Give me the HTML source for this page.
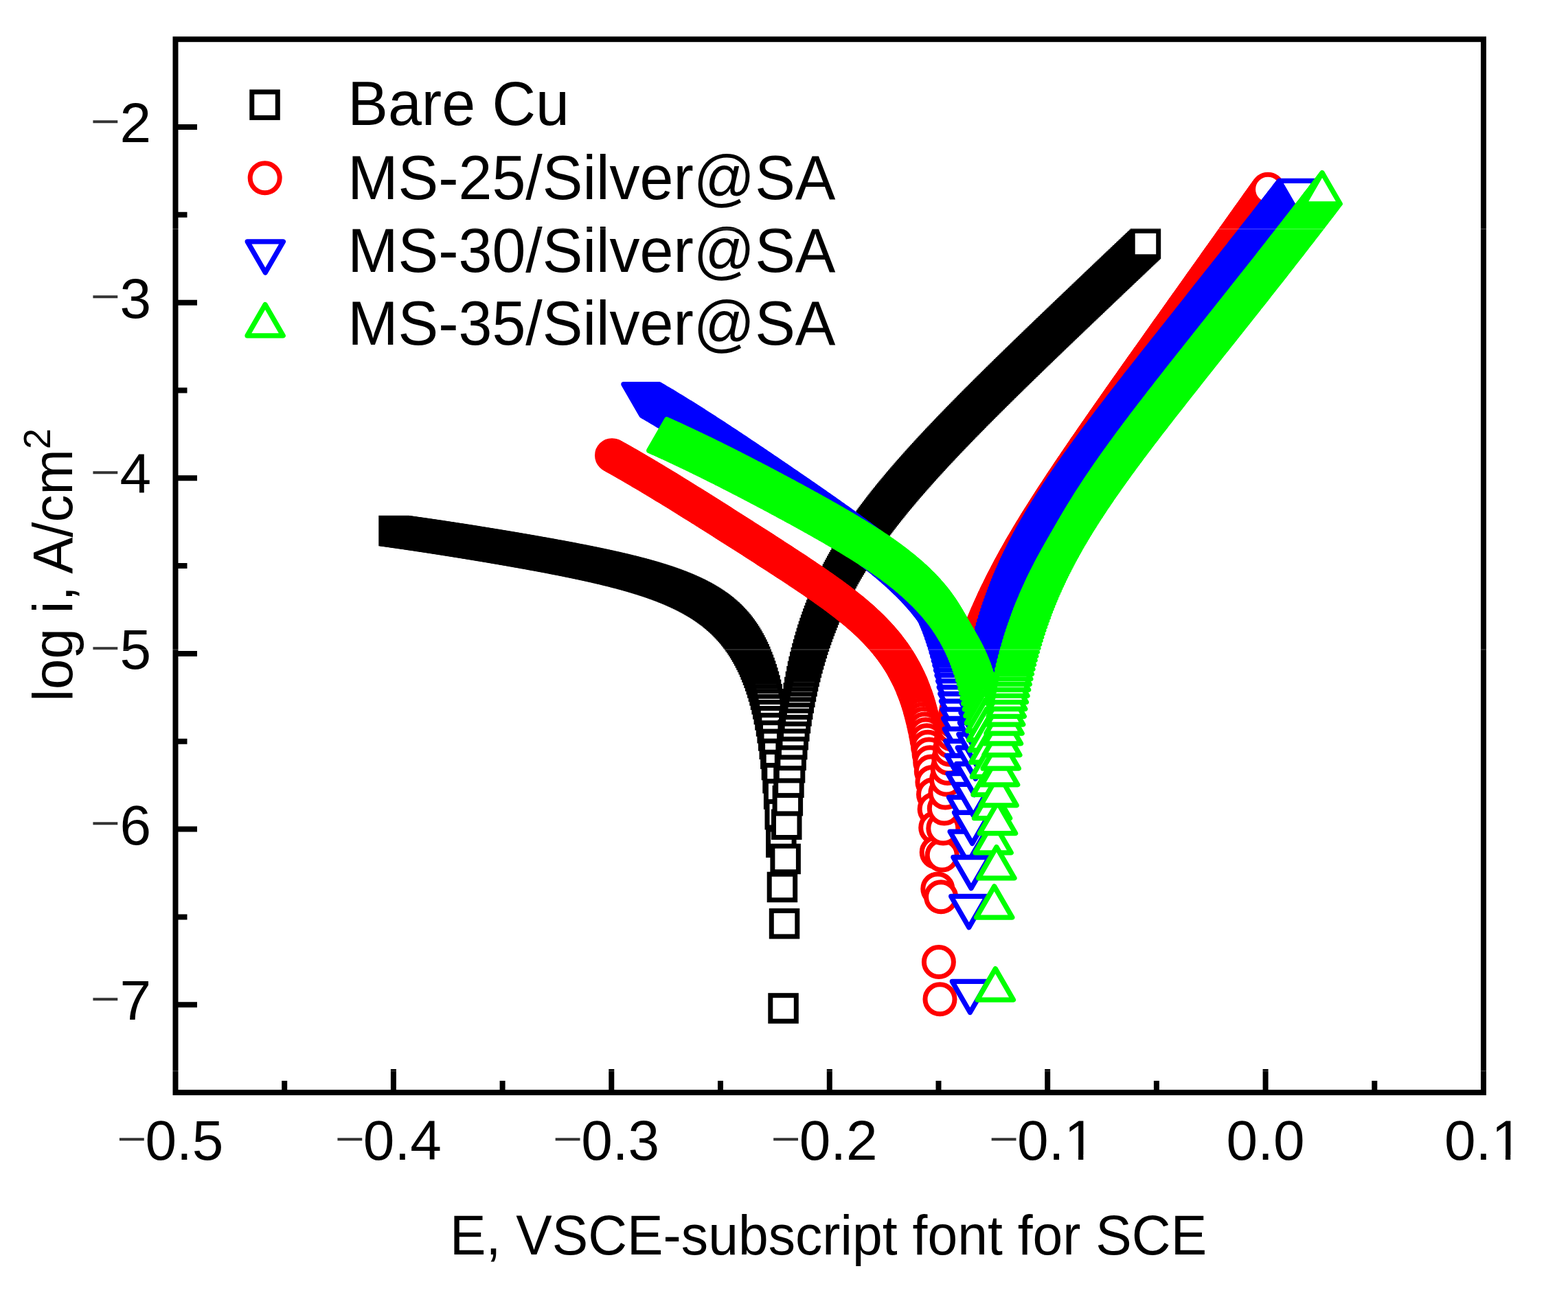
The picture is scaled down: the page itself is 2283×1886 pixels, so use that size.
<!DOCTYPE html>
<html lang="en"><head><meta charset="utf-8"><title>Polarization curves</title>
<style>html,body{margin:0;padding:0;background:#fff}body{width:2283px;height:1886px;overflow:hidden}svg{display:block}text{font-family:"Liberation Sans",sans-serif}</style></head><body>
<svg width="2283" height="1886" viewBox="0 0 2283 1886">
<rect width="2283" height="1886" fill="#fff"/>
<g fill="#fff" stroke="#000000" stroke-width="7">
<rect x="554.8" y="754.3" width="37.5" height="37.5"/><rect x="556.3" y="754.5" width="37.5" height="37.5"/><rect x="557.9" y="754.7" width="37.5" height="37.5"/><rect x="559.5" y="754.9" width="37.5" height="37.5"/><rect x="561.1" y="755.1" width="37.5" height="37.5"/><rect x="562.7" y="755.4" width="37.5" height="37.5"/><rect x="564.3" y="755.6" width="37.5" height="37.5"/><rect x="565.9" y="755.8" width="37.5" height="37.5"/><rect x="567.5" y="756" width="37.5" height="37.5"/><rect x="569" y="756.3" width="37.5" height="37.5"/><rect x="570.6" y="756.5" width="37.5" height="37.5"/><rect x="572.2" y="756.7" width="37.5" height="37.5"/><rect x="573.8" y="756.9" width="37.5" height="37.5"/><rect x="575.4" y="757.2" width="37.5" height="37.5"/><rect x="577" y="757.4" width="37.5" height="37.5"/><rect x="578.6" y="757.6" width="37.5" height="37.5"/><rect x="580.2" y="757.8" width="37.5" height="37.5"/><rect x="581.8" y="758.1" width="37.5" height="37.5"/><rect x="583.3" y="758.3" width="37.5" height="37.5"/><rect x="584.9" y="758.5" width="37.5" height="37.5"/><rect x="586.5" y="758.8" width="37.5" height="37.5"/><rect x="588.1" y="759" width="37.5" height="37.5"/><rect x="589.7" y="759.2" width="37.5" height="37.5"/><rect x="591.3" y="759.5" width="37.5" height="37.5"/><rect x="592.9" y="759.7" width="37.5" height="37.5"/><rect x="594.5" y="759.9" width="37.5" height="37.5"/><rect x="596" y="760.2" width="37.5" height="37.5"/><rect x="597.6" y="760.4" width="37.5" height="37.5"/><rect x="599.2" y="760.6" width="37.5" height="37.5"/><rect x="600.8" y="760.9" width="37.5" height="37.5"/><rect x="602.4" y="761.1" width="37.5" height="37.5"/><rect x="604" y="761.3" width="37.5" height="37.5"/><rect x="605.6" y="761.6" width="37.5" height="37.5"/><rect x="607.2" y="761.8" width="37.5" height="37.5"/><rect x="608.8" y="762.1" width="37.5" height="37.5"/><rect x="610.3" y="762.3" width="37.5" height="37.5"/><rect x="611.9" y="762.5" width="37.5" height="37.5"/><rect x="613.5" y="762.8" width="37.5" height="37.5"/><rect x="615.1" y="763" width="37.5" height="37.5"/><rect x="616.7" y="763.3" width="37.5" height="37.5"/><rect x="618.3" y="763.5" width="37.5" height="37.5"/><rect x="619.9" y="763.7" width="37.5" height="37.5"/><rect x="621.5" y="764" width="37.5" height="37.5"/><rect x="623" y="764.2" width="37.5" height="37.5"/><rect x="624.6" y="764.5" width="37.5" height="37.5"/><rect x="626.2" y="764.7" width="37.5" height="37.5"/><rect x="627.8" y="765" width="37.5" height="37.5"/><rect x="629.4" y="765.2" width="37.5" height="37.5"/><rect x="631" y="765.5" width="37.5" height="37.5"/><rect x="632.6" y="765.7" width="37.5" height="37.5"/><rect x="634.2" y="765.9" width="37.5" height="37.5"/><rect x="635.8" y="766.2" width="37.5" height="37.5"/><rect x="637.3" y="766.4" width="37.5" height="37.5"/><rect x="638.9" y="766.7" width="37.5" height="37.5"/><rect x="640.5" y="766.9" width="37.5" height="37.5"/><rect x="642.1" y="767.2" width="37.5" height="37.5"/><rect x="643.7" y="767.4" width="37.5" height="37.5"/><rect x="645.3" y="767.7" width="37.5" height="37.5"/><rect x="646.9" y="767.9" width="37.5" height="37.5"/><rect x="648.5" y="768.2" width="37.5" height="37.5"/><rect x="650" y="768.4" width="37.5" height="37.5"/><rect x="651.6" y="768.7" width="37.5" height="37.5"/><rect x="653.2" y="768.9" width="37.5" height="37.5"/><rect x="654.8" y="769.2" width="37.5" height="37.5"/><rect x="656.4" y="769.4" width="37.5" height="37.5"/><rect x="658" y="769.7" width="37.5" height="37.5"/><rect x="659.6" y="770" width="37.5" height="37.5"/><rect x="661.2" y="770.2" width="37.5" height="37.5"/><rect x="662.8" y="770.5" width="37.5" height="37.5"/><rect x="664.3" y="770.7" width="37.5" height="37.5"/><rect x="665.9" y="771" width="37.5" height="37.5"/><rect x="667.5" y="771.2" width="37.5" height="37.5"/><rect x="669.1" y="771.5" width="37.5" height="37.5"/><rect x="670.7" y="771.7" width="37.5" height="37.5"/><rect x="672.3" y="772" width="37.5" height="37.5"/><rect x="673.9" y="772.3" width="37.5" height="37.5"/><rect x="675.5" y="772.5" width="37.5" height="37.5"/><rect x="677" y="772.8" width="37.5" height="37.5"/><rect x="678.6" y="773" width="37.5" height="37.5"/><rect x="680.2" y="773.3" width="37.5" height="37.5"/><rect x="681.8" y="773.6" width="37.5" height="37.5"/><rect x="683.4" y="773.8" width="37.5" height="37.5"/><rect x="685" y="774.1" width="37.5" height="37.5"/><rect x="686.6" y="774.3" width="37.5" height="37.5"/><rect x="688.2" y="774.6" width="37.5" height="37.5"/><rect x="689.8" y="774.9" width="37.5" height="37.5"/><rect x="691.3" y="775.1" width="37.5" height="37.5"/><rect x="692.9" y="775.4" width="37.5" height="37.5"/><rect x="694.5" y="775.6" width="37.5" height="37.5"/><rect x="696.1" y="775.9" width="37.5" height="37.5"/><rect x="697.7" y="776.2" width="37.5" height="37.5"/><rect x="699.3" y="776.4" width="37.5" height="37.5"/><rect x="700.9" y="776.7" width="37.5" height="37.5"/><rect x="702.5" y="777" width="37.5" height="37.5"/><rect x="704" y="777.2" width="37.5" height="37.5"/><rect x="705.6" y="777.5" width="37.5" height="37.5"/><rect x="707.2" y="777.8" width="37.5" height="37.5"/><rect x="708.8" y="778" width="37.5" height="37.5"/><rect x="710.4" y="778.3" width="37.5" height="37.5"/><rect x="712" y="778.6" width="37.5" height="37.5"/><rect x="713.6" y="778.8" width="37.5" height="37.5"/><rect x="715.2" y="779.1" width="37.5" height="37.5"/><rect x="716.8" y="779.4" width="37.5" height="37.5"/><rect x="718.3" y="779.7" width="37.5" height="37.5"/><rect x="719.9" y="779.9" width="37.5" height="37.5"/><rect x="721.5" y="780.2" width="37.5" height="37.5"/><rect x="723.1" y="780.5" width="37.5" height="37.5"/><rect x="724.7" y="780.7" width="37.5" height="37.5"/><rect x="726.3" y="781" width="37.5" height="37.5"/><rect x="727.9" y="781.3" width="37.5" height="37.5"/><rect x="729.5" y="781.6" width="37.5" height="37.5"/><rect x="731" y="781.8" width="37.5" height="37.5"/><rect x="732.6" y="782.1" width="37.5" height="37.5"/><rect x="734.2" y="782.4" width="37.5" height="37.5"/><rect x="735.8" y="782.7" width="37.5" height="37.5"/><rect x="737.4" y="782.9" width="37.5" height="37.5"/><rect x="739" y="783.2" width="37.5" height="37.5"/><rect x="740.6" y="783.5" width="37.5" height="37.5"/><rect x="742.2" y="783.8" width="37.5" height="37.5"/><rect x="743.8" y="784.1" width="37.5" height="37.5"/><rect x="745.3" y="784.3" width="37.5" height="37.5"/><rect x="746.9" y="784.6" width="37.5" height="37.5"/><rect x="748.5" y="784.9" width="37.5" height="37.5"/><rect x="750.1" y="785.2" width="37.5" height="37.5"/><rect x="751.7" y="785.5" width="37.5" height="37.5"/><rect x="753.3" y="785.7" width="37.5" height="37.5"/><rect x="754.9" y="786" width="37.5" height="37.5"/><rect x="756.5" y="786.3" width="37.5" height="37.5"/><rect x="758" y="786.6" width="37.5" height="37.5"/><rect x="759.6" y="786.9" width="37.5" height="37.5"/><rect x="761.2" y="787.2" width="37.5" height="37.5"/><rect x="762.8" y="787.4" width="37.5" height="37.5"/><rect x="764.4" y="787.7" width="37.5" height="37.5"/><rect x="766" y="788" width="37.5" height="37.5"/><rect x="767.6" y="788.3" width="37.5" height="37.5"/><rect x="769.2" y="788.6" width="37.5" height="37.5"/><rect x="770.8" y="788.9" width="37.5" height="37.5"/><rect x="772.3" y="789.2" width="37.5" height="37.5"/><rect x="773.9" y="789.5" width="37.5" height="37.5"/><rect x="775.5" y="789.8" width="37.5" height="37.5"/><rect x="777.1" y="790.1" width="37.5" height="37.5"/><rect x="778.7" y="790.3" width="37.5" height="37.5"/><rect x="780.3" y="790.6" width="37.5" height="37.5"/><rect x="781.9" y="790.9" width="37.5" height="37.5"/><rect x="783.5" y="791.2" width="37.5" height="37.5"/><rect x="785" y="791.5" width="37.5" height="37.5"/><rect x="786.6" y="791.8" width="37.5" height="37.5"/><rect x="788.2" y="792.1" width="37.5" height="37.5"/><rect x="789.8" y="792.4" width="37.5" height="37.5"/><rect x="791.4" y="792.7" width="37.5" height="37.5"/><rect x="793" y="793" width="37.5" height="37.5"/><rect x="794.6" y="793.3" width="37.5" height="37.5"/><rect x="796.2" y="793.6" width="37.5" height="37.5"/><rect x="797.8" y="793.9" width="37.5" height="37.5"/><rect x="799.3" y="794.2" width="37.5" height="37.5"/><rect x="800.9" y="794.5" width="37.5" height="37.5"/><rect x="802.5" y="794.9" width="37.5" height="37.5"/><rect x="804.1" y="795.2" width="37.5" height="37.5"/><rect x="805.7" y="795.5" width="37.5" height="37.5"/><rect x="807.3" y="795.8" width="37.5" height="37.5"/><rect x="808.9" y="796.1" width="37.5" height="37.5"/><rect x="810.5" y="796.4" width="37.5" height="37.5"/><rect x="812" y="796.7" width="37.5" height="37.5"/><rect x="813.6" y="797" width="37.5" height="37.5"/><rect x="815.2" y="797.3" width="37.5" height="37.5"/><rect x="816.8" y="797.7" width="37.5" height="37.5"/><rect x="818.4" y="798" width="37.5" height="37.5"/><rect x="820" y="798.3" width="37.5" height="37.5"/><rect x="821.6" y="798.6" width="37.5" height="37.5"/><rect x="823.2" y="798.9" width="37.5" height="37.5"/><rect x="824.8" y="799.3" width="37.5" height="37.5"/><rect x="826.3" y="799.6" width="37.5" height="37.5"/><rect x="827.9" y="799.9" width="37.5" height="37.5"/><rect x="829.5" y="800.2" width="37.5" height="37.5"/><rect x="831.1" y="800.6" width="37.5" height="37.5"/><rect x="832.7" y="800.9" width="37.5" height="37.5"/><rect x="834.3" y="801.2" width="37.5" height="37.5"/><rect x="835.9" y="801.6" width="37.5" height="37.5"/><rect x="837.5" y="801.9" width="37.5" height="37.5"/><rect x="839" y="802.2" width="37.5" height="37.5"/><rect x="840.6" y="802.6" width="37.5" height="37.5"/><rect x="842.2" y="802.9" width="37.5" height="37.5"/><rect x="843.8" y="803.2" width="37.5" height="37.5"/><rect x="845.4" y="803.6" width="37.5" height="37.5"/><rect x="847" y="803.9" width="37.5" height="37.5"/><rect x="848.6" y="804.3" width="37.5" height="37.5"/><rect x="850.2" y="804.6" width="37.5" height="37.5"/><rect x="851.8" y="805" width="37.5" height="37.5"/><rect x="853.3" y="805.3" width="37.5" height="37.5"/><rect x="854.9" y="805.7" width="37.5" height="37.5"/><rect x="856.5" y="806" width="37.5" height="37.5"/><rect x="858.1" y="806.4" width="37.5" height="37.5"/><rect x="859.7" y="806.7" width="37.5" height="37.5"/><rect x="861.3" y="807.1" width="37.5" height="37.5"/><rect x="862.9" y="807.4" width="37.5" height="37.5"/><rect x="864.5" y="807.8" width="37.5" height="37.5"/><rect x="866" y="808.2" width="37.5" height="37.5"/><rect x="867.6" y="808.5" width="37.5" height="37.5"/><rect x="869.2" y="808.9" width="37.5" height="37.5"/><rect x="870.8" y="809.3" width="37.5" height="37.5"/><rect x="872.4" y="809.7" width="37.5" height="37.5"/><rect x="874" y="810" width="37.5" height="37.5"/><rect x="875.6" y="810.4" width="37.5" height="37.5"/><rect x="877.2" y="810.8" width="37.5" height="37.5"/><rect x="878.8" y="811.2" width="37.5" height="37.5"/><rect x="880.3" y="811.6" width="37.5" height="37.5"/><rect x="881.9" y="812" width="37.5" height="37.5"/><rect x="883.5" y="812.4" width="37.5" height="37.5"/><rect x="885.1" y="812.7" width="37.5" height="37.5"/><rect x="886.7" y="813.1" width="37.5" height="37.5"/><rect x="888.3" y="813.5" width="37.5" height="37.5"/><rect x="889.9" y="813.9" width="37.5" height="37.5"/><rect x="891.5" y="814.4" width="37.5" height="37.5"/><rect x="893" y="814.8" width="37.5" height="37.5"/><rect x="894.6" y="815.2" width="37.5" height="37.5"/><rect x="896.2" y="815.6" width="37.5" height="37.5"/><rect x="897.8" y="816" width="37.5" height="37.5"/><rect x="899.4" y="816.4" width="37.5" height="37.5"/><rect x="901" y="816.8" width="37.5" height="37.5"/><rect x="902.6" y="817.3" width="37.5" height="37.5"/><rect x="904.2" y="817.7" width="37.5" height="37.5"/><rect x="905.8" y="818.1" width="37.5" height="37.5"/><rect x="907.3" y="818.6" width="37.5" height="37.5"/><rect x="908.9" y="819" width="37.5" height="37.5"/><rect x="910.5" y="819.5" width="37.5" height="37.5"/><rect x="912.1" y="819.9" width="37.5" height="37.5"/><rect x="913.7" y="820.4" width="37.5" height="37.5"/><rect x="915.3" y="820.8" width="37.5" height="37.5"/><rect x="916.9" y="821.3" width="37.5" height="37.5"/><rect x="918.5" y="821.8" width="37.5" height="37.5"/><rect x="920" y="822.2" width="37.5" height="37.5"/><rect x="921.6" y="822.7" width="37.5" height="37.5"/><rect x="923.2" y="823.2" width="37.5" height="37.5"/><rect x="924.8" y="823.7" width="37.5" height="37.5"/><rect x="926.4" y="824.2" width="37.5" height="37.5"/><rect x="928" y="824.7" width="37.5" height="37.5"/><rect x="929.6" y="825.1" width="37.5" height="37.5"/><rect x="931.2" y="825.7" width="37.5" height="37.5"/><rect x="932.8" y="826.2" width="37.5" height="37.5"/><rect x="934.3" y="826.7" width="37.5" height="37.5"/><rect x="935.9" y="827.2" width="37.5" height="37.5"/><rect x="937.5" y="827.7" width="37.5" height="37.5"/><rect x="939.1" y="828.2" width="37.5" height="37.5"/><rect x="940.7" y="828.8" width="37.5" height="37.5"/><rect x="942.3" y="829.3" width="37.5" height="37.5"/><rect x="943.9" y="829.9" width="37.5" height="37.5"/><rect x="945.5" y="830.4" width="37.5" height="37.5"/><rect x="947" y="831" width="37.5" height="37.5"/><rect x="948.6" y="831.6" width="37.5" height="37.5"/><rect x="950.2" y="832.1" width="37.5" height="37.5"/><rect x="951.8" y="832.7" width="37.5" height="37.5"/><rect x="953.4" y="833.3" width="37.5" height="37.5"/><rect x="955" y="833.9" width="37.5" height="37.5"/><rect x="956.6" y="834.5" width="37.5" height="37.5"/><rect x="958.2" y="835.1" width="37.5" height="37.5"/><rect x="959.8" y="835.7" width="37.5" height="37.5"/><rect x="961.3" y="836.4" width="37.5" height="37.5"/><rect x="962.9" y="837" width="37.5" height="37.5"/><rect x="964.5" y="837.6" width="37.5" height="37.5"/><rect x="966.1" y="838.3" width="37.5" height="37.5"/><rect x="967.7" y="838.9" width="37.5" height="37.5"/><rect x="969.3" y="839.6" width="37.5" height="37.5"/><rect x="970.9" y="840.3" width="37.5" height="37.5"/><rect x="972.5" y="841" width="37.5" height="37.5"/><rect x="974" y="841.7" width="37.5" height="37.5"/><rect x="975.6" y="842.4" width="37.5" height="37.5"/><rect x="977.2" y="843.1" width="37.5" height="37.5"/><rect x="978.8" y="843.8" width="37.5" height="37.5"/><rect x="980.4" y="844.6" width="37.5" height="37.5"/><rect x="982" y="845.3" width="37.5" height="37.5"/><rect x="983.6" y="846.1" width="37.5" height="37.5"/><rect x="985.2" y="846.8" width="37.5" height="37.5"/><rect x="986.8" y="847.6" width="37.5" height="37.5"/><rect x="988.3" y="848.4" width="37.5" height="37.5"/><rect x="989.9" y="849.2" width="37.5" height="37.5"/><rect x="991.5" y="850.1" width="37.5" height="37.5"/><rect x="993.1" y="850.9" width="37.5" height="37.5"/><rect x="994.7" y="851.7" width="37.5" height="37.5"/><rect x="996.3" y="852.6" width="37.5" height="37.5"/><rect x="997.9" y="853.5" width="37.5" height="37.5"/><rect x="999.5" y="854.4" width="37.5" height="37.5"/><rect x="1001" y="855.3" width="37.5" height="37.5"/><rect x="1002.6" y="856.2" width="37.5" height="37.5"/><rect x="1004.2" y="857.2" width="37.5" height="37.5"/><rect x="1005.8" y="858.1" width="37.5" height="37.5"/><rect x="1007.4" y="859.1" width="37.5" height="37.5"/><rect x="1009" y="860.1" width="37.5" height="37.5"/><rect x="1010.6" y="861.1" width="37.5" height="37.5"/><rect x="1012.2" y="862.2" width="37.5" height="37.5"/><rect x="1013.8" y="863.2" width="37.5" height="37.5"/><rect x="1015.3" y="864.3" width="37.5" height="37.5"/><rect x="1016.9" y="865.4" width="37.5" height="37.5"/><rect x="1018.5" y="866.5" width="37.5" height="37.5"/><rect x="1020.1" y="867.7" width="37.5" height="37.5"/><rect x="1021.7" y="868.8" width="37.5" height="37.5"/><rect x="1023.3" y="870" width="37.5" height="37.5"/><rect x="1024.9" y="871.3" width="37.5" height="37.5"/><rect x="1026.5" y="872.5" width="37.5" height="37.5"/><rect x="1028" y="873.8" width="37.5" height="37.5"/><rect x="1029.6" y="875.1" width="37.5" height="37.5"/><rect x="1031.2" y="876.5" width="37.5" height="37.5"/><rect x="1032.8" y="877.9" width="37.5" height="37.5"/><rect x="1034.4" y="879.3" width="37.5" height="37.5"/><rect x="1036" y="880.7" width="37.5" height="37.5"/><rect x="1037.6" y="882.2" width="37.5" height="37.5"/><rect x="1039.2" y="883.7" width="37.5" height="37.5"/><rect x="1040.8" y="885.3" width="37.5" height="37.5"/><rect x="1042.3" y="886.9" width="37.5" height="37.5"/><rect x="1043.9" y="888.6" width="37.5" height="37.5"/><rect x="1045.5" y="890.3" width="37.5" height="37.5"/><rect x="1047.1" y="892" width="37.5" height="37.5"/><rect x="1048.7" y="893.8" width="37.5" height="37.5"/><rect x="1050.3" y="895.6" width="37.5" height="37.5"/><rect x="1051.9" y="897.5" width="37.5" height="37.5"/><rect x="1053.5" y="899.5" width="37.5" height="37.5"/><rect x="1055" y="901.5" width="37.5" height="37.5"/><rect x="1056.6" y="903.6" width="37.5" height="37.5"/><rect x="1058.2" y="905.7" width="37.5" height="37.5"/><rect x="1059.8" y="908" width="37.5" height="37.5"/><rect x="1061.4" y="910.2" width="37.5" height="37.5"/><rect x="1063" y="912.6" width="37.5" height="37.5"/><rect x="1064.6" y="915" width="37.5" height="37.5"/><rect x="1066.2" y="917.6" width="37.5" height="37.5"/><rect x="1067.8" y="920.2" width="37.5" height="37.5"/><rect x="1069.3" y="922.9" width="37.5" height="37.5"/><rect x="1070.9" y="925.7" width="37.5" height="37.5"/><rect x="1072.5" y="928.6" width="37.5" height="37.5"/><rect x="1074.1" y="931.7" width="37.5" height="37.5"/><rect x="1075.7" y="934.8" width="37.5" height="37.5"/><rect x="1077.3" y="938.1" width="37.5" height="37.5"/><rect x="1078.9" y="941.5" width="37.5" height="37.5"/><rect x="1080.5" y="945.1" width="37.5" height="37.5"/><rect x="1082" y="948.9" width="37.5" height="37.5"/><rect x="1083.6" y="952.8" width="37.5" height="37.5"/><rect x="1085.2" y="956.9" width="37.5" height="37.5"/><rect x="1086.8" y="961.2" width="37.5" height="37.5"/><rect x="1088.4" y="965.8" width="37.5" height="37.5"/><rect x="1090" y="970.6" width="37.5" height="37.5"/><rect x="1091.6" y="975.7" width="37.5" height="37.5"/><rect x="1093.2" y="981.1" width="37.5" height="37.5"/><rect x="1094.8" y="986.8" width="37.5" height="37.5"/><rect x="1096.3" y="993" width="37.5" height="37.5"/><rect x="1097.9" y="999.6" width="37.5" height="37.5"/><rect x="1099.5" y="1006.6" width="37.5" height="37.5"/><rect x="1101.1" y="1014.3" width="37.5" height="37.5"/><rect x="1102.7" y="1022.6" width="37.5" height="37.5"/><rect x="1104.3" y="1031.6" width="37.5" height="37.5"/><rect x="1105.9" y="1041.6" width="37.5" height="37.5"/><rect x="1107.5" y="1052.7" width="37.5" height="37.5"/><rect x="1109" y="1065" width="37.5" height="37.5"/><rect x="1110.6" y="1079.1" width="37.5" height="37.5"/><rect x="1112.2" y="1095.3" width="37.5" height="37.5"/><rect x="1113.8" y="1114.5" width="37.5" height="37.5"/><rect x="1115.4" y="1137.7" width="37.5" height="37.5"/><rect x="1117" y="1167.4" width="37.5" height="37.5"/><rect x="1118.6" y="1208" width="37.5" height="37.5"/><rect x="1120.2" y="1273.2" width="37.5" height="37.5"/><rect x="1121.8" y="1449.7" width="37.5" height="37.5"/><rect x="1123.3" y="1326.4" width="37.5" height="37.5"/><rect x="1124.9" y="1232.2" width="37.5" height="37.5"/><rect x="1126.5" y="1182" width="37.5" height="37.5"/><rect x="1128.1" y="1147.4" width="37.5" height="37.5"/><rect x="1129.7" y="1120.9" width="37.5" height="37.5"/><rect x="1131.3" y="1099.4" width="37.5" height="37.5"/><rect x="1132.9" y="1081.2" width="37.5" height="37.5"/><rect x="1134.5" y="1065.4" width="37.5" height="37.5"/><rect x="1136" y="1051.4" width="37.5" height="37.5"/><rect x="1137.6" y="1038.8" width="37.5" height="37.5"/><rect x="1139.2" y="1027.3" width="37.5" height="37.5"/><rect x="1140.8" y="1016.8" width="37.5" height="37.5"/><rect x="1142.4" y="1007" width="37.5" height="37.5"/><rect x="1144" y="997.8" width="37.5" height="37.5"/><rect x="1145.6" y="989.3" width="37.5" height="37.5"/><rect x="1147.2" y="981.2" width="37.5" height="37.5"/><rect x="1148.8" y="973.5" width="37.5" height="37.5"/><rect x="1150.3" y="966.2" width="37.5" height="37.5"/><rect x="1151.9" y="959.3" width="37.5" height="37.5"/><rect x="1153.5" y="952.6" width="37.5" height="37.5"/><rect x="1155.1" y="946.3" width="37.5" height="37.5"/><rect x="1156.7" y="940.2" width="37.5" height="37.5"/><rect x="1158.3" y="934.4" width="37.5" height="37.5"/><rect x="1159.9" y="928.7" width="37.5" height="37.5"/><rect x="1161.5" y="923.3" width="37.5" height="37.5"/><rect x="1163.1" y="918" width="37.5" height="37.5"/><rect x="1164.6" y="912.9" width="37.5" height="37.5"/><rect x="1166.2" y="908" width="37.5" height="37.5"/><rect x="1167.8" y="903.2" width="37.5" height="37.5"/><rect x="1169.4" y="898.6" width="37.5" height="37.5"/><rect x="1171" y="894.1" width="37.5" height="37.5"/><rect x="1172.6" y="889.7" width="37.5" height="37.5"/><rect x="1174.2" y="885.4" width="37.5" height="37.5"/><rect x="1175.8" y="881.2" width="37.5" height="37.5"/><rect x="1177.4" y="877.1" width="37.5" height="37.5"/><rect x="1178.9" y="873.1" width="37.5" height="37.5"/><rect x="1180.5" y="869.2" width="37.5" height="37.5"/><rect x="1182.1" y="865.4" width="37.5" height="37.5"/><rect x="1183.7" y="861.6" width="37.5" height="37.5"/><rect x="1185.3" y="858" width="37.5" height="37.5"/><rect x="1186.9" y="854.4" width="37.5" height="37.5"/><rect x="1188.5" y="850.9" width="37.5" height="37.5"/><rect x="1190.1" y="847.4" width="37.5" height="37.5"/><rect x="1191.7" y="844" width="37.5" height="37.5"/><rect x="1193.2" y="840.7" width="37.5" height="37.5"/><rect x="1194.8" y="837.4" width="37.5" height="37.5"/><rect x="1196.4" y="834.2" width="37.5" height="37.5"/><rect x="1198" y="831" width="37.5" height="37.5"/><rect x="1199.6" y="827.9" width="37.5" height="37.5"/><rect x="1201.2" y="824.8" width="37.5" height="37.5"/><rect x="1202.8" y="821.8" width="37.5" height="37.5"/><rect x="1204.4" y="818.8" width="37.5" height="37.5"/><rect x="1206" y="815.9" width="37.5" height="37.5"/><rect x="1207.5" y="813" width="37.5" height="37.5"/><rect x="1209.1" y="810.1" width="37.5" height="37.5"/><rect x="1210.7" y="807.3" width="37.5" height="37.5"/><rect x="1212.3" y="804.5" width="37.5" height="37.5"/><rect x="1213.9" y="801.7" width="37.5" height="37.5"/><rect x="1215.5" y="799" width="37.5" height="37.5"/><rect x="1217.1" y="796.3" width="37.5" height="37.5"/><rect x="1218.7" y="793.7" width="37.5" height="37.5"/><rect x="1220.3" y="791.1" width="37.5" height="37.5"/><rect x="1221.8" y="788.5" width="37.5" height="37.5"/><rect x="1223.4" y="785.9" width="37.5" height="37.5"/><rect x="1225" y="783.4" width="37.5" height="37.5"/><rect x="1226.6" y="780.9" width="37.5" height="37.5"/><rect x="1228.2" y="778.4" width="37.5" height="37.5"/><rect x="1229.8" y="776" width="37.5" height="37.5"/><rect x="1231.4" y="773.5" width="37.5" height="37.5"/><rect x="1233" y="771.1" width="37.5" height="37.5"/><rect x="1234.6" y="768.7" width="37.5" height="37.5"/><rect x="1236.1" y="766.4" width="37.5" height="37.5"/><rect x="1237.7" y="764" width="37.5" height="37.5"/><rect x="1239.3" y="761.7" width="37.5" height="37.5"/><rect x="1240.9" y="759.4" width="37.5" height="37.5"/><rect x="1242.5" y="757.1" width="37.5" height="37.5"/><rect x="1244.1" y="754.9" width="37.5" height="37.5"/><rect x="1245.7" y="752.6" width="37.5" height="37.5"/><rect x="1247.3" y="750.4" width="37.5" height="37.5"/><rect x="1248.9" y="748.2" width="37.5" height="37.5"/><rect x="1250.4" y="746" width="37.5" height="37.5"/><rect x="1252" y="743.8" width="37.5" height="37.5"/><rect x="1253.6" y="741.7" width="37.5" height="37.5"/><rect x="1255.2" y="739.5" width="37.5" height="37.5"/><rect x="1256.8" y="737.4" width="37.5" height="37.5"/><rect x="1258.4" y="735.3" width="37.5" height="37.5"/><rect x="1260" y="733.2" width="37.5" height="37.5"/><rect x="1261.6" y="731.1" width="37.5" height="37.5"/><rect x="1263.2" y="729" width="37.5" height="37.5"/><rect x="1264.7" y="727" width="37.5" height="37.5"/><rect x="1266.3" y="724.9" width="37.5" height="37.5"/><rect x="1267.9" y="722.9" width="37.5" height="37.5"/><rect x="1269.5" y="720.9" width="37.5" height="37.5"/><rect x="1271.1" y="718.8" width="37.5" height="37.5"/><rect x="1272.7" y="716.8" width="37.5" height="37.5"/><rect x="1274.3" y="714.8" width="37.5" height="37.5"/><rect x="1275.9" y="712.9" width="37.5" height="37.5"/><rect x="1277.5" y="710.9" width="37.5" height="37.5"/><rect x="1279" y="708.9" width="37.5" height="37.5"/><rect x="1280.6" y="707" width="37.5" height="37.5"/><rect x="1282.2" y="705" width="37.5" height="37.5"/><rect x="1283.8" y="703.1" width="37.5" height="37.5"/><rect x="1285.4" y="701.2" width="37.5" height="37.5"/><rect x="1287" y="699.3" width="37.5" height="37.5"/><rect x="1288.6" y="697.4" width="37.5" height="37.5"/><rect x="1290.2" y="695.5" width="37.5" height="37.5"/><rect x="1291.8" y="693.6" width="37.5" height="37.5"/><rect x="1293.3" y="691.7" width="37.5" height="37.5"/><rect x="1294.9" y="689.8" width="37.5" height="37.5"/><rect x="1296.5" y="688" width="37.5" height="37.5"/><rect x="1298.1" y="686.1" width="37.5" height="37.5"/><rect x="1299.7" y="684.2" width="37.5" height="37.5"/><rect x="1301.3" y="682.4" width="37.5" height="37.5"/><rect x="1302.9" y="680.6" width="37.5" height="37.5"/><rect x="1304.5" y="678.7" width="37.5" height="37.5"/><rect x="1306.1" y="676.9" width="37.5" height="37.5"/><rect x="1307.6" y="675.1" width="37.5" height="37.5"/><rect x="1309.2" y="673.3" width="37.5" height="37.5"/><rect x="1310.8" y="671.5" width="37.5" height="37.5"/><rect x="1312.4" y="669.7" width="37.5" height="37.5"/><rect x="1314" y="667.9" width="37.5" height="37.5"/><rect x="1315.6" y="666.1" width="37.5" height="37.5"/><rect x="1317.2" y="664.3" width="37.5" height="37.5"/><rect x="1318.8" y="662.5" width="37.5" height="37.5"/><rect x="1320.4" y="660.7" width="37.5" height="37.5"/><rect x="1321.9" y="659" width="37.5" height="37.5"/><rect x="1323.5" y="657.2" width="37.5" height="37.5"/><rect x="1325.1" y="655.4" width="37.5" height="37.5"/><rect x="1326.7" y="653.7" width="37.5" height="37.5"/><rect x="1328.3" y="651.9" width="37.5" height="37.5"/><rect x="1329.9" y="650.2" width="37.5" height="37.5"/><rect x="1331.5" y="648.5" width="37.5" height="37.5"/><rect x="1333.1" y="646.7" width="37.5" height="37.5"/><rect x="1334.7" y="645" width="37.5" height="37.5"/><rect x="1336.2" y="643.3" width="37.5" height="37.5"/><rect x="1337.8" y="641.6" width="37.5" height="37.5"/><rect x="1339.4" y="639.8" width="37.5" height="37.5"/><rect x="1341" y="638.1" width="37.5" height="37.5"/><rect x="1342.6" y="636.4" width="37.5" height="37.5"/><rect x="1344.2" y="634.7" width="37.5" height="37.5"/><rect x="1345.8" y="633" width="37.5" height="37.5"/><rect x="1347.4" y="631.3" width="37.5" height="37.5"/><rect x="1349" y="629.6" width="37.5" height="37.5"/><rect x="1350.5" y="627.9" width="37.5" height="37.5"/><rect x="1352.1" y="626.2" width="37.5" height="37.5"/><rect x="1353.7" y="624.6" width="37.5" height="37.5"/><rect x="1355.3" y="622.9" width="37.5" height="37.5"/><rect x="1356.9" y="621.2" width="37.5" height="37.5"/><rect x="1358.5" y="619.5" width="37.5" height="37.5"/><rect x="1360.1" y="617.9" width="37.5" height="37.5"/><rect x="1361.7" y="616.2" width="37.5" height="37.5"/><rect x="1363.3" y="614.5" width="37.5" height="37.5"/><rect x="1364.8" y="612.9" width="37.5" height="37.5"/><rect x="1366.4" y="611.2" width="37.5" height="37.5"/><rect x="1368" y="609.6" width="37.5" height="37.5"/><rect x="1369.6" y="607.9" width="37.5" height="37.5"/><rect x="1371.2" y="606.3" width="37.5" height="37.5"/><rect x="1372.8" y="604.6" width="37.5" height="37.5"/><rect x="1374.4" y="603" width="37.5" height="37.5"/><rect x="1376" y="601.3" width="37.5" height="37.5"/><rect x="1377.6" y="599.7" width="37.5" height="37.5"/><rect x="1379.1" y="598.1" width="37.5" height="37.5"/><rect x="1380.7" y="596.4" width="37.5" height="37.5"/><rect x="1382.3" y="594.8" width="37.5" height="37.5"/><rect x="1383.9" y="593.2" width="37.5" height="37.5"/><rect x="1385.5" y="591.6" width="37.5" height="37.5"/><rect x="1387.1" y="589.9" width="37.5" height="37.5"/><rect x="1388.7" y="588.3" width="37.5" height="37.5"/><rect x="1390.3" y="586.7" width="37.5" height="37.5"/><rect x="1391.9" y="585.1" width="37.5" height="37.5"/><rect x="1393.4" y="583.5" width="37.5" height="37.5"/><rect x="1395" y="581.9" width="37.5" height="37.5"/><rect x="1396.6" y="580.2" width="37.5" height="37.5"/><rect x="1398.2" y="578.6" width="37.5" height="37.5"/><rect x="1399.8" y="577" width="37.5" height="37.5"/><rect x="1401.4" y="575.4" width="37.5" height="37.5"/><rect x="1403" y="573.8" width="37.5" height="37.5"/><rect x="1404.6" y="572.2" width="37.5" height="37.5"/><rect x="1406.2" y="570.6" width="37.5" height="37.5"/><rect x="1407.7" y="569" width="37.5" height="37.5"/><rect x="1409.3" y="567.4" width="37.5" height="37.5"/><rect x="1410.9" y="565.9" width="37.5" height="37.5"/><rect x="1412.5" y="564.3" width="37.5" height="37.5"/><rect x="1414.1" y="562.7" width="37.5" height="37.5"/><rect x="1415.7" y="561.1" width="37.5" height="37.5"/><rect x="1417.3" y="559.5" width="37.5" height="37.5"/><rect x="1418.9" y="557.9" width="37.5" height="37.5"/><rect x="1420.5" y="556.3" width="37.5" height="37.5"/><rect x="1422" y="554.8" width="37.5" height="37.5"/><rect x="1423.6" y="553.2" width="37.5" height="37.5"/><rect x="1425.2" y="551.6" width="37.5" height="37.5"/><rect x="1426.8" y="550" width="37.5" height="37.5"/><rect x="1428.4" y="548.5" width="37.5" height="37.5"/><rect x="1430" y="546.9" width="37.5" height="37.5"/><rect x="1431.6" y="545.3" width="37.5" height="37.5"/><rect x="1433.2" y="543.7" width="37.5" height="37.5"/><rect x="1434.8" y="542.2" width="37.5" height="37.5"/><rect x="1436.3" y="540.6" width="37.5" height="37.5"/><rect x="1437.9" y="539" width="37.5" height="37.5"/><rect x="1439.5" y="537.5" width="37.5" height="37.5"/><rect x="1441.1" y="535.9" width="37.5" height="37.5"/><rect x="1442.7" y="534.3" width="37.5" height="37.5"/><rect x="1444.3" y="532.8" width="37.5" height="37.5"/><rect x="1445.9" y="531.2" width="37.5" height="37.5"/><rect x="1447.5" y="529.7" width="37.5" height="37.5"/><rect x="1449.1" y="528.1" width="37.5" height="37.5"/><rect x="1450.6" y="526.5" width="37.5" height="37.5"/><rect x="1452.2" y="525" width="37.5" height="37.5"/><rect x="1453.8" y="523.4" width="37.5" height="37.5"/><rect x="1455.4" y="521.9" width="37.5" height="37.5"/><rect x="1457" y="520.3" width="37.5" height="37.5"/><rect x="1458.6" y="518.8" width="37.5" height="37.5"/><rect x="1460.2" y="517.2" width="37.5" height="37.5"/><rect x="1461.8" y="515.7" width="37.5" height="37.5"/><rect x="1463.4" y="514.1" width="37.5" height="37.5"/><rect x="1464.9" y="512.6" width="37.5" height="37.5"/><rect x="1466.5" y="511" width="37.5" height="37.5"/><rect x="1468.1" y="509.5" width="37.5" height="37.5"/><rect x="1469.7" y="508" width="37.5" height="37.5"/><rect x="1471.3" y="506.4" width="37.5" height="37.5"/><rect x="1472.9" y="504.9" width="37.5" height="37.5"/><rect x="1474.5" y="503.3" width="37.5" height="37.5"/><rect x="1476.1" y="501.8" width="37.5" height="37.5"/><rect x="1477.7" y="500.2" width="37.5" height="37.5"/><rect x="1479.2" y="498.7" width="37.5" height="37.5"/><rect x="1480.8" y="497.2" width="37.5" height="37.5"/><rect x="1482.4" y="495.6" width="37.5" height="37.5"/><rect x="1484" y="494.1" width="37.5" height="37.5"/><rect x="1485.6" y="492.5" width="37.5" height="37.5"/><rect x="1487.2" y="491" width="37.5" height="37.5"/><rect x="1488.8" y="489.5" width="37.5" height="37.5"/><rect x="1490.4" y="487.9" width="37.5" height="37.5"/><rect x="1492" y="486.4" width="37.5" height="37.5"/><rect x="1493.5" y="484.9" width="37.5" height="37.5"/><rect x="1495.1" y="483.3" width="37.5" height="37.5"/><rect x="1496.7" y="481.8" width="37.5" height="37.5"/><rect x="1498.3" y="480.3" width="37.5" height="37.5"/><rect x="1499.9" y="478.7" width="37.5" height="37.5"/><rect x="1501.5" y="477.2" width="37.5" height="37.5"/><rect x="1503.1" y="475.7" width="37.5" height="37.5"/><rect x="1504.7" y="474.2" width="37.5" height="37.5"/><rect x="1506.3" y="472.6" width="37.5" height="37.5"/><rect x="1507.8" y="471.1" width="37.5" height="37.5"/><rect x="1509.4" y="469.6" width="37.5" height="37.5"/><rect x="1511" y="468" width="37.5" height="37.5"/><rect x="1512.6" y="466.5" width="37.5" height="37.5"/><rect x="1514.2" y="465" width="37.5" height="37.5"/><rect x="1515.8" y="463.5" width="37.5" height="37.5"/><rect x="1517.4" y="461.9" width="37.5" height="37.5"/><rect x="1519" y="460.4" width="37.5" height="37.5"/><rect x="1520.6" y="458.9" width="37.5" height="37.5"/><rect x="1522.1" y="457.4" width="37.5" height="37.5"/><rect x="1523.7" y="455.9" width="37.5" height="37.5"/><rect x="1525.3" y="454.3" width="37.5" height="37.5"/><rect x="1526.9" y="452.8" width="37.5" height="37.5"/><rect x="1528.5" y="451.3" width="37.5" height="37.5"/><rect x="1530.1" y="449.8" width="37.5" height="37.5"/><rect x="1531.7" y="448.2" width="37.5" height="37.5"/><rect x="1533.3" y="446.7" width="37.5" height="37.5"/><rect x="1534.9" y="445.2" width="37.5" height="37.5"/><rect x="1536.4" y="443.7" width="37.5" height="37.5"/><rect x="1538" y="442.2" width="37.5" height="37.5"/><rect x="1539.6" y="440.6" width="37.5" height="37.5"/><rect x="1541.2" y="439.1" width="37.5" height="37.5"/><rect x="1542.8" y="437.6" width="37.5" height="37.5"/><rect x="1544.4" y="436.1" width="37.5" height="37.5"/><rect x="1546" y="434.6" width="37.5" height="37.5"/><rect x="1547.6" y="433.1" width="37.5" height="37.5"/><rect x="1549.2" y="431.5" width="37.5" height="37.5"/><rect x="1550.7" y="430" width="37.5" height="37.5"/><rect x="1552.3" y="428.5" width="37.5" height="37.5"/><rect x="1553.9" y="427" width="37.5" height="37.5"/><rect x="1555.5" y="425.5" width="37.5" height="37.5"/><rect x="1557.1" y="424" width="37.5" height="37.5"/><rect x="1558.7" y="422.4" width="37.5" height="37.5"/><rect x="1560.3" y="420.9" width="37.5" height="37.5"/><rect x="1561.9" y="419.4" width="37.5" height="37.5"/><rect x="1563.5" y="417.9" width="37.5" height="37.5"/><rect x="1565" y="416.4" width="37.5" height="37.5"/><rect x="1566.6" y="414.9" width="37.5" height="37.5"/><rect x="1568.2" y="413.4" width="37.5" height="37.5"/><rect x="1569.8" y="411.8" width="37.5" height="37.5"/><rect x="1571.4" y="410.3" width="37.5" height="37.5"/><rect x="1573" y="408.8" width="37.5" height="37.5"/><rect x="1574.6" y="407.3" width="37.5" height="37.5"/><rect x="1576.2" y="405.8" width="37.5" height="37.5"/><rect x="1577.8" y="404.3" width="37.5" height="37.5"/><rect x="1579.3" y="402.8" width="37.5" height="37.5"/><rect x="1580.9" y="401.2" width="37.5" height="37.5"/><rect x="1582.5" y="399.7" width="37.5" height="37.5"/><rect x="1584.1" y="398.2" width="37.5" height="37.5"/><rect x="1585.7" y="396.7" width="37.5" height="37.5"/><rect x="1587.3" y="395.2" width="37.5" height="37.5"/><rect x="1588.9" y="393.7" width="37.5" height="37.5"/><rect x="1590.5" y="392.2" width="37.5" height="37.5"/><rect x="1592.1" y="390.7" width="37.5" height="37.5"/><rect x="1593.6" y="389.2" width="37.5" height="37.5"/><rect x="1595.2" y="387.6" width="37.5" height="37.5"/><rect x="1596.8" y="386.1" width="37.5" height="37.5"/><rect x="1598.4" y="384.6" width="37.5" height="37.5"/><rect x="1600" y="383.1" width="37.5" height="37.5"/><rect x="1601.6" y="381.6" width="37.5" height="37.5"/><rect x="1603.2" y="380.1" width="37.5" height="37.5"/><rect x="1604.8" y="378.6" width="37.5" height="37.5"/><rect x="1606.4" y="377.1" width="37.5" height="37.5"/><rect x="1607.9" y="375.6" width="37.5" height="37.5"/><rect x="1609.5" y="374.1" width="37.5" height="37.5"/><rect x="1611.1" y="372.5" width="37.5" height="37.5"/><rect x="1612.7" y="371" width="37.5" height="37.5"/><rect x="1614.3" y="369.5" width="37.5" height="37.5"/><rect x="1615.9" y="368" width="37.5" height="37.5"/><rect x="1617.5" y="366.5" width="37.5" height="37.5"/><rect x="1619.1" y="365" width="37.5" height="37.5"/><rect x="1620.7" y="363.5" width="37.5" height="37.5"/><rect x="1622.2" y="362" width="37.5" height="37.5"/><rect x="1623.8" y="360.5" width="37.5" height="37.5"/><rect x="1625.4" y="359" width="37.5" height="37.5"/><rect x="1627" y="357.5" width="37.5" height="37.5"/><rect x="1628.6" y="355.9" width="37.5" height="37.5"/><rect x="1630.2" y="354.4" width="37.5" height="37.5"/><rect x="1631.8" y="352.9" width="37.5" height="37.5"/><rect x="1633.4" y="351.4" width="37.5" height="37.5"/><rect x="1635" y="349.9" width="37.5" height="37.5"/><rect x="1636.5" y="348.4" width="37.5" height="37.5"/><rect x="1638.1" y="346.9" width="37.5" height="37.5"/><rect x="1639.7" y="345.4" width="37.5" height="37.5"/><rect x="1641.3" y="343.9" width="37.5" height="37.5"/><rect x="1642.9" y="342.4" width="37.5" height="37.5"/><rect x="1644.5" y="340.9" width="37.5" height="37.5"/><rect x="1646.1" y="339.4" width="37.5" height="37.5"/><rect x="1647.7" y="337.9" width="37.5" height="37.5"/><rect x="1649.2" y="336.3" width="37.5" height="37.5"/>
</g>
<g fill="#fff" stroke="#ff0000" stroke-width="7">
<circle cx="891" cy="663.2" r="21.5"/><circle cx="892.6" cy="664.1" r="21.5"/><circle cx="894.2" cy="665" r="21.5"/><circle cx="895.8" cy="665.9" r="21.5"/><circle cx="897.3" cy="666.7" r="21.5"/><circle cx="898.9" cy="667.6" r="21.5"/><circle cx="900.5" cy="668.5" r="21.5"/><circle cx="902.1" cy="669.4" r="21.5"/><circle cx="903.7" cy="670.3" r="21.5"/><circle cx="905.3" cy="671.2" r="21.5"/><circle cx="906.9" cy="672.1" r="21.5"/><circle cx="908.5" cy="673" r="21.5"/><circle cx="910" cy="673.9" r="21.5"/><circle cx="911.6" cy="674.8" r="21.5"/><circle cx="913.2" cy="675.7" r="21.5"/><circle cx="914.8" cy="676.6" r="21.5"/><circle cx="916.4" cy="677.6" r="21.5"/><circle cx="918" cy="678.5" r="21.5"/><circle cx="919.6" cy="679.4" r="21.5"/><circle cx="921.1" cy="680.3" r="21.5"/><circle cx="922.7" cy="681.2" r="21.5"/><circle cx="924.3" cy="682.2" r="21.5"/><circle cx="925.9" cy="683.1" r="21.5"/><circle cx="927.5" cy="684" r="21.5"/><circle cx="929.1" cy="684.9" r="21.5"/><circle cx="930.7" cy="685.9" r="21.5"/><circle cx="932.2" cy="686.8" r="21.5"/><circle cx="933.8" cy="687.7" r="21.5"/><circle cx="935.4" cy="688.7" r="21.5"/><circle cx="937" cy="689.6" r="21.5"/><circle cx="938.6" cy="690.5" r="21.5"/><circle cx="940.2" cy="691.5" r="21.5"/><circle cx="941.8" cy="692.4" r="21.5"/><circle cx="943.4" cy="693.4" r="21.5"/><circle cx="944.9" cy="694.3" r="21.5"/><circle cx="946.5" cy="695.3" r="21.5"/><circle cx="948.1" cy="696.2" r="21.5"/><circle cx="949.7" cy="697.2" r="21.5"/><circle cx="951.3" cy="698.1" r="21.5"/><circle cx="952.9" cy="699.1" r="21.5"/><circle cx="954.5" cy="700" r="21.5"/><circle cx="956" cy="701" r="21.5"/><circle cx="957.6" cy="701.9" r="21.5"/><circle cx="959.2" cy="702.9" r="21.5"/><circle cx="960.8" cy="703.9" r="21.5"/><circle cx="962.4" cy="704.8" r="21.5"/><circle cx="964" cy="705.8" r="21.5"/><circle cx="965.6" cy="706.7" r="21.5"/><circle cx="967.1" cy="707.7" r="21.5"/><circle cx="968.7" cy="708.7" r="21.5"/><circle cx="970.3" cy="709.6" r="21.5"/><circle cx="971.9" cy="710.6" r="21.5"/><circle cx="973.5" cy="711.6" r="21.5"/><circle cx="975.1" cy="712.5" r="21.5"/><circle cx="976.7" cy="713.5" r="21.5"/><circle cx="978.3" cy="714.5" r="21.5"/><circle cx="979.8" cy="715.5" r="21.5"/><circle cx="981.4" cy="716.4" r="21.5"/><circle cx="983" cy="717.4" r="21.5"/><circle cx="984.6" cy="718.4" r="21.5"/><circle cx="986.2" cy="719.4" r="21.5"/><circle cx="987.8" cy="720.4" r="21.5"/><circle cx="989.4" cy="721.3" r="21.5"/><circle cx="990.9" cy="722.3" r="21.5"/><circle cx="992.5" cy="723.3" r="21.5"/><circle cx="994.1" cy="724.3" r="21.5"/><circle cx="995.7" cy="725.3" r="21.5"/><circle cx="997.3" cy="726.3" r="21.5"/><circle cx="998.9" cy="727.2" r="21.5"/><circle cx="1000.5" cy="728.2" r="21.5"/><circle cx="1002" cy="729.2" r="21.5"/><circle cx="1003.6" cy="730.2" r="21.5"/><circle cx="1005.2" cy="731.2" r="21.5"/><circle cx="1006.8" cy="732.2" r="21.5"/><circle cx="1008.4" cy="733.2" r="21.5"/><circle cx="1010" cy="734.2" r="21.5"/><circle cx="1011.6" cy="735.2" r="21.5"/><circle cx="1013.2" cy="736.1" r="21.5"/><circle cx="1014.7" cy="737.1" r="21.5"/><circle cx="1016.3" cy="738.1" r="21.5"/><circle cx="1017.9" cy="739.1" r="21.5"/><circle cx="1019.5" cy="740.1" r="21.5"/><circle cx="1021.1" cy="741.1" r="21.5"/><circle cx="1022.7" cy="742.1" r="21.5"/><circle cx="1024.3" cy="743.1" r="21.5"/><circle cx="1025.8" cy="744.1" r="21.5"/><circle cx="1027.4" cy="745.1" r="21.5"/><circle cx="1029" cy="746.1" r="21.5"/><circle cx="1030.6" cy="747.1" r="21.5"/><circle cx="1032.2" cy="748.1" r="21.5"/><circle cx="1033.8" cy="749.1" r="21.5"/><circle cx="1035.4" cy="750.1" r="21.5"/><circle cx="1036.9" cy="751.1" r="21.5"/><circle cx="1038.5" cy="752.1" r="21.5"/><circle cx="1040.1" cy="753.1" r="21.5"/><circle cx="1041.7" cy="754.1" r="21.5"/><circle cx="1043.3" cy="755.1" r="21.5"/><circle cx="1044.9" cy="756.1" r="21.5"/><circle cx="1046.5" cy="757.1" r="21.5"/><circle cx="1048.1" cy="758.1" r="21.5"/><circle cx="1049.6" cy="759.1" r="21.5"/><circle cx="1051.2" cy="760.1" r="21.5"/><circle cx="1052.8" cy="761.1" r="21.5"/><circle cx="1054.4" cy="762.2" r="21.5"/><circle cx="1056" cy="763.2" r="21.5"/><circle cx="1057.6" cy="764.2" r="21.5"/><circle cx="1059.2" cy="765.2" r="21.5"/><circle cx="1060.7" cy="766.2" r="21.5"/><circle cx="1062.3" cy="767.2" r="21.5"/><circle cx="1063.9" cy="768.2" r="21.5"/><circle cx="1065.5" cy="769.2" r="21.5"/><circle cx="1067.1" cy="770.2" r="21.5"/><circle cx="1068.7" cy="771.2" r="21.5"/><circle cx="1070.3" cy="772.2" r="21.5"/><circle cx="1071.8" cy="773.2" r="21.5"/><circle cx="1073.4" cy="774.3" r="21.5"/><circle cx="1075" cy="775.3" r="21.5"/><circle cx="1076.6" cy="776.3" r="21.5"/><circle cx="1078.2" cy="777.3" r="21.5"/><circle cx="1079.8" cy="778.3" r="21.5"/><circle cx="1081.4" cy="779.3" r="21.5"/><circle cx="1083" cy="780.3" r="21.5"/><circle cx="1084.5" cy="781.3" r="21.5"/><circle cx="1086.1" cy="782.4" r="21.5"/><circle cx="1087.7" cy="783.4" r="21.5"/><circle cx="1089.3" cy="784.4" r="21.5"/><circle cx="1090.9" cy="785.4" r="21.5"/><circle cx="1092.5" cy="786.4" r="21.5"/><circle cx="1094.1" cy="787.4" r="21.5"/><circle cx="1095.6" cy="788.4" r="21.5"/><circle cx="1097.2" cy="789.5" r="21.5"/><circle cx="1098.8" cy="790.5" r="21.5"/><circle cx="1100.4" cy="791.5" r="21.5"/><circle cx="1102" cy="792.5" r="21.5"/><circle cx="1103.6" cy="793.5" r="21.5"/><circle cx="1105.2" cy="794.5" r="21.5"/><circle cx="1106.7" cy="795.6" r="21.5"/><circle cx="1108.3" cy="796.6" r="21.5"/><circle cx="1109.9" cy="797.6" r="21.5"/><circle cx="1111.5" cy="798.6" r="21.5"/><circle cx="1113.1" cy="799.6" r="21.5"/><circle cx="1114.7" cy="800.7" r="21.5"/><circle cx="1116.3" cy="801.7" r="21.5"/><circle cx="1117.9" cy="802.7" r="21.5"/><circle cx="1119.4" cy="803.7" r="21.5"/><circle cx="1121" cy="804.8" r="21.5"/><circle cx="1122.6" cy="805.8" r="21.5"/><circle cx="1124.2" cy="806.8" r="21.5"/><circle cx="1125.8" cy="807.8" r="21.5"/><circle cx="1127.4" cy="808.9" r="21.5"/><circle cx="1129" cy="809.9" r="21.5"/><circle cx="1130.5" cy="810.9" r="21.5"/><circle cx="1132.1" cy="811.9" r="21.5"/><circle cx="1133.7" cy="813" r="21.5"/><circle cx="1135.3" cy="814" r="21.5"/><circle cx="1136.9" cy="815" r="21.5"/><circle cx="1138.5" cy="816.1" r="21.5"/><circle cx="1140.1" cy="817.1" r="21.5"/><circle cx="1141.6" cy="818.1" r="21.5"/><circle cx="1143.2" cy="819.2" r="21.5"/><circle cx="1144.8" cy="820.2" r="21.5"/><circle cx="1146.4" cy="821.2" r="21.5"/><circle cx="1148" cy="822.3" r="21.5"/><circle cx="1149.6" cy="823.3" r="21.5"/><circle cx="1151.2" cy="824.4" r="21.5"/><circle cx="1152.8" cy="825.4" r="21.5"/><circle cx="1154.3" cy="826.4" r="21.5"/><circle cx="1155.9" cy="827.5" r="21.5"/><circle cx="1157.5" cy="828.5" r="21.5"/><circle cx="1159.1" cy="829.6" r="21.5"/><circle cx="1160.7" cy="830.6" r="21.5"/><circle cx="1162.3" cy="831.7" r="21.5"/><circle cx="1163.9" cy="832.7" r="21.5"/><circle cx="1165.4" cy="833.8" r="21.5"/><circle cx="1167" cy="834.9" r="21.5"/><circle cx="1168.6" cy="835.9" r="21.5"/><circle cx="1170.2" cy="837" r="21.5"/><circle cx="1171.8" cy="838" r="21.5"/><circle cx="1173.4" cy="839.1" r="21.5"/><circle cx="1175" cy="840.2" r="21.5"/><circle cx="1176.5" cy="841.2" r="21.5"/><circle cx="1178.1" cy="842.3" r="21.5"/><circle cx="1179.7" cy="843.4" r="21.5"/><circle cx="1181.3" cy="844.5" r="21.5"/><circle cx="1182.9" cy="845.6" r="21.5"/><circle cx="1184.5" cy="846.6" r="21.5"/><circle cx="1186.1" cy="847.7" r="21.5"/><circle cx="1187.7" cy="848.8" r="21.5"/><circle cx="1189.2" cy="849.9" r="21.5"/><circle cx="1190.8" cy="851" r="21.5"/><circle cx="1192.4" cy="852.1" r="21.5"/><circle cx="1194" cy="853.2" r="21.5"/><circle cx="1195.6" cy="854.3" r="21.5"/><circle cx="1197.2" cy="855.4" r="21.5"/><circle cx="1198.8" cy="856.5" r="21.5"/><circle cx="1200.3" cy="857.7" r="21.5"/><circle cx="1201.9" cy="858.8" r="21.5"/><circle cx="1203.5" cy="859.9" r="21.5"/><circle cx="1205.1" cy="861" r="21.5"/><circle cx="1206.7" cy="862.2" r="21.5"/><circle cx="1208.3" cy="863.3" r="21.5"/><circle cx="1209.9" cy="864.5" r="21.5"/><circle cx="1211.4" cy="865.6" r="21.5"/><circle cx="1213" cy="866.8" r="21.5"/><circle cx="1214.6" cy="867.9" r="21.5"/><circle cx="1216.2" cy="869.1" r="21.5"/><circle cx="1217.8" cy="870.3" r="21.5"/><circle cx="1219.4" cy="871.5" r="21.5"/><circle cx="1221" cy="872.7" r="21.5"/><circle cx="1222.6" cy="873.8" r="21.5"/><circle cx="1224.1" cy="875.1" r="21.5"/><circle cx="1225.7" cy="876.3" r="21.5"/><circle cx="1227.3" cy="877.5" r="21.5"/><circle cx="1228.9" cy="878.7" r="21.5"/><circle cx="1230.5" cy="879.9" r="21.5"/><circle cx="1232.1" cy="881.2" r="21.5"/><circle cx="1233.7" cy="882.4" r="21.5"/><circle cx="1235.2" cy="883.7" r="21.5"/><circle cx="1236.8" cy="885" r="21.5"/><circle cx="1238.4" cy="886.2" r="21.5"/><circle cx="1240" cy="887.5" r="21.5"/><circle cx="1241.6" cy="888.8" r="21.5"/><circle cx="1243.2" cy="890.1" r="21.5"/><circle cx="1244.8" cy="891.4" r="21.5"/><circle cx="1246.3" cy="892.8" r="21.5"/><circle cx="1247.9" cy="894.1" r="21.5"/><circle cx="1249.5" cy="895.5" r="21.5"/><circle cx="1251.1" cy="896.9" r="21.5"/><circle cx="1252.7" cy="898.2" r="21.5"/><circle cx="1254.3" cy="899.6" r="21.5"/><circle cx="1255.9" cy="901" r="21.5"/><circle cx="1257.5" cy="902.5" r="21.5"/><circle cx="1259" cy="903.9" r="21.5"/><circle cx="1260.6" cy="905.4" r="21.5"/><circle cx="1262.2" cy="906.9" r="21.5"/><circle cx="1263.8" cy="908.4" r="21.5"/><circle cx="1265.4" cy="909.9" r="21.5"/><circle cx="1267" cy="911.4" r="21.5"/><circle cx="1268.6" cy="913" r="21.5"/><circle cx="1270.1" cy="914.5" r="21.5"/><circle cx="1271.7" cy="916.1" r="21.5"/><circle cx="1273.3" cy="917.8" r="21.5"/><circle cx="1274.9" cy="919.4" r="21.5"/><circle cx="1276.5" cy="921.1" r="21.5"/><circle cx="1278.1" cy="922.8" r="21.5"/><circle cx="1279.7" cy="924.5" r="21.5"/><circle cx="1281.2" cy="926.2" r="21.5"/><circle cx="1282.8" cy="928" r="21.5"/><circle cx="1284.4" cy="929.8" r="21.5"/><circle cx="1286" cy="931.6" r="21.5"/><circle cx="1287.6" cy="933.5" r="21.5"/><circle cx="1289.2" cy="935.4" r="21.5"/><circle cx="1290.8" cy="937.3" r="21.5"/><circle cx="1292.4" cy="939.3" r="21.5"/><circle cx="1293.9" cy="941.3" r="21.5"/><circle cx="1295.5" cy="943.4" r="21.5"/><circle cx="1297.1" cy="945.5" r="21.5"/><circle cx="1298.7" cy="947.6" r="21.5"/><circle cx="1300.3" cy="949.8" r="21.5"/><circle cx="1301.9" cy="952" r="21.5"/><circle cx="1303.5" cy="954.3" r="21.5"/><circle cx="1305" cy="956.6" r="21.5"/><circle cx="1306.6" cy="959" r="21.5"/><circle cx="1308.2" cy="961.5" r="21.5"/><circle cx="1309.8" cy="964" r="21.5"/><circle cx="1311.4" cy="966.6" r="21.5"/><circle cx="1313" cy="969.3" r="21.5"/><circle cx="1314.6" cy="972.1" r="21.5"/><circle cx="1316.1" cy="974.9" r="21.5"/><circle cx="1317.7" cy="977.8" r="21.5"/><circle cx="1319.3" cy="980.9" r="21.5"/><circle cx="1320.9" cy="984" r="21.5"/><circle cx="1322.5" cy="987.3" r="21.5"/><circle cx="1324.1" cy="990.6" r="21.5"/><circle cx="1325.7" cy="994.2" r="21.5"/><circle cx="1327.3" cy="997.8" r="21.5"/><circle cx="1328.8" cy="1001.7" r="21.5"/><circle cx="1330.4" cy="1005.7" r="21.5"/><circle cx="1332" cy="1009.9" r="21.5"/><circle cx="1333.6" cy="1014.3" r="21.5"/><circle cx="1335.2" cy="1019" r="21.5"/><circle cx="1336.8" cy="1024" r="21.5"/><circle cx="1338.4" cy="1029.2" r="21.5"/><circle cx="1339.9" cy="1034.8" r="21.5"/><circle cx="1341.5" cy="1040.8" r="21.5"/><circle cx="1343.1" cy="1047.2" r="21.5"/><circle cx="1344.7" cy="1054" r="21.5"/><circle cx="1346.3" cy="1061.4" r="21.5"/><circle cx="1347.9" cy="1069.4" r="21.5"/><circle cx="1349.5" cy="1078.2" r="21.5"/><circle cx="1351" cy="1087.8" r="21.5"/><circle cx="1352.6" cy="1098.4" r="21.5"/><circle cx="1354.2" cy="1110.3" r="21.5"/><circle cx="1355.8" cy="1123.6" r="21.5"/><circle cx="1357.4" cy="1139" r="21.5"/><circle cx="1359" cy="1157" r="21.5"/><circle cx="1360.6" cy="1178.5" r="21.5"/><circle cx="1362.2" cy="1205.5" r="21.5"/><circle cx="1363.7" cy="1241.2" r="21.5"/><circle cx="1365.3" cy="1294.5" r="21.5"/><circle cx="1366.9" cy="1401" r="21.5"/><circle cx="1368.5" cy="1455.3" r="21.5"/><circle cx="1370.1" cy="1306.2" r="21.5"/><circle cx="1371.7" cy="1245.6" r="21.5"/><circle cx="1373.3" cy="1206.5" r="21.5"/><circle cx="1374.8" cy="1177.6" r="21.5"/><circle cx="1376.4" cy="1154.6" r="21.5"/><circle cx="1378" cy="1135.4" r="21.5"/><circle cx="1379.6" cy="1119" r="21.5"/><circle cx="1381.2" cy="1104.6" r="21.5"/><circle cx="1382.8" cy="1091.8" r="21.5"/><circle cx="1384.4" cy="1080.2" r="21.5"/><circle cx="1386" cy="1069.6" r="21.5"/><circle cx="1387.5" cy="1059.9" r="21.5"/><circle cx="1389.1" cy="1050.8" r="21.5"/><circle cx="1390.7" cy="1042.4" r="21.5"/><circle cx="1392.3" cy="1034.4" r="21.5"/><circle cx="1393.9" cy="1026.9" r="21.5"/><circle cx="1395.5" cy="1019.7" r="21.5"/><circle cx="1397.1" cy="1013" r="21.5"/><circle cx="1398.6" cy="1006.5" r="21.5"/><circle cx="1400.2" cy="1000.2" r="21.5"/><circle cx="1401.8" cy="994.3" r="21.5"/><circle cx="1403.4" cy="988.5" r="21.5"/><circle cx="1405" cy="982.9" r="21.5"/><circle cx="1406.6" cy="977.5" r="21.5"/><circle cx="1408.2" cy="972.3" r="21.5"/><circle cx="1409.8" cy="967.2" r="21.5"/><circle cx="1411.3" cy="962.3" r="21.5"/><circle cx="1412.9" cy="957.5" r="21.5"/><circle cx="1414.5" cy="952.8" r="21.5"/><circle cx="1416.1" cy="948.2" r="21.5"/><circle cx="1417.7" cy="943.7" r="21.5"/><circle cx="1419.3" cy="939.3" r="21.5"/><circle cx="1420.9" cy="935" r="21.5"/><circle cx="1422.4" cy="930.8" r="21.5"/><circle cx="1424" cy="926.6" r="21.5"/><circle cx="1425.6" cy="922.6" r="21.5"/><circle cx="1427.2" cy="918.6" r="21.5"/><circle cx="1428.8" cy="914.6" r="21.5"/><circle cx="1430.4" cy="910.7" r="21.5"/><circle cx="1432" cy="906.9" r="21.5"/><circle cx="1433.6" cy="903.1" r="21.5"/><circle cx="1435.1" cy="899.4" r="21.5"/><circle cx="1436.7" cy="895.7" r="21.5"/><circle cx="1438.3" cy="892.1" r="21.5"/><circle cx="1439.9" cy="888.5" r="21.5"/><circle cx="1441.5" cy="884.9" r="21.5"/><circle cx="1443.1" cy="881.4" r="21.5"/><circle cx="1444.7" cy="878" r="21.5"/><circle cx="1446.2" cy="874.5" r="21.5"/><circle cx="1447.8" cy="871.2" r="21.5"/><circle cx="1449.4" cy="867.8" r="21.5"/><circle cx="1451" cy="864.5" r="21.5"/><circle cx="1452.6" cy="861.2" r="21.5"/><circle cx="1454.2" cy="857.9" r="21.5"/><circle cx="1455.8" cy="854.7" r="21.5"/><circle cx="1457.4" cy="851.5" r="21.5"/><circle cx="1458.9" cy="848.4" r="21.5"/><circle cx="1460.5" cy="845.2" r="21.5"/><circle cx="1462.1" cy="842.1" r="21.5"/><circle cx="1463.7" cy="839.1" r="21.5"/><circle cx="1465.3" cy="836" r="21.5"/><circle cx="1466.9" cy="833" r="21.5"/><circle cx="1468.5" cy="830" r="21.5"/><circle cx="1470" cy="827" r="21.5"/><circle cx="1471.6" cy="824.1" r="21.5"/><circle cx="1473.2" cy="821.1" r="21.5"/><circle cx="1474.8" cy="818.2" r="21.5"/><circle cx="1476.4" cy="815.4" r="21.5"/><circle cx="1478" cy="812.5" r="21.5"/><circle cx="1479.6" cy="809.7" r="21.5"/><circle cx="1481.2" cy="806.9" r="21.5"/><circle cx="1482.7" cy="804.1" r="21.5"/><circle cx="1484.3" cy="801.3" r="21.5"/><circle cx="1485.9" cy="798.5" r="21.5"/><circle cx="1487.5" cy="795.8" r="21.5"/><circle cx="1489.1" cy="793" r="21.5"/><circle cx="1490.7" cy="790.3" r="21.5"/><circle cx="1492.3" cy="787.6" r="21.5"/><circle cx="1493.9" cy="784.9" r="21.5"/><circle cx="1495.4" cy="782.3" r="21.5"/><circle cx="1497" cy="779.6" r="21.5"/><circle cx="1498.6" cy="777" r="21.5"/><circle cx="1500.2" cy="774.3" r="21.5"/><circle cx="1501.8" cy="771.7" r="21.5"/><circle cx="1503.4" cy="769.1" r="21.5"/><circle cx="1505" cy="766.5" r="21.5"/><circle cx="1506.5" cy="763.9" r="21.5"/><circle cx="1508.1" cy="761.4" r="21.5"/><circle cx="1509.7" cy="758.8" r="21.5"/><circle cx="1511.3" cy="756.2" r="21.5"/><circle cx="1512.9" cy="753.7" r="21.5"/><circle cx="1514.5" cy="751.2" r="21.5"/><circle cx="1516.1" cy="748.6" r="21.5"/><circle cx="1517.7" cy="746.1" r="21.5"/><circle cx="1519.2" cy="743.6" r="21.5"/><circle cx="1520.8" cy="741.1" r="21.5"/><circle cx="1522.4" cy="738.6" r="21.5"/><circle cx="1524" cy="736.2" r="21.5"/><circle cx="1525.6" cy="733.7" r="21.5"/><circle cx="1527.2" cy="731.2" r="21.5"/><circle cx="1528.8" cy="728.8" r="21.5"/><circle cx="1530.3" cy="726.3" r="21.5"/><circle cx="1531.9" cy="723.9" r="21.5"/><circle cx="1533.5" cy="721.4" r="21.5"/><circle cx="1535.1" cy="719" r="21.5"/><circle cx="1536.7" cy="716.6" r="21.5"/><circle cx="1538.3" cy="714.2" r="21.5"/><circle cx="1539.9" cy="711.7" r="21.5"/><circle cx="1541.5" cy="709.3" r="21.5"/><circle cx="1543" cy="706.9" r="21.5"/><circle cx="1544.6" cy="704.5" r="21.5"/><circle cx="1546.2" cy="702.1" r="21.5"/><circle cx="1547.8" cy="699.7" r="21.5"/><circle cx="1549.4" cy="697.4" r="21.5"/><circle cx="1551" cy="695" r="21.5"/><circle cx="1552.6" cy="692.6" r="21.5"/><circle cx="1554.1" cy="690.2" r="21.5"/><circle cx="1555.7" cy="687.9" r="21.5"/><circle cx="1557.3" cy="685.5" r="21.5"/><circle cx="1558.9" cy="683.2" r="21.5"/><circle cx="1560.5" cy="680.8" r="21.5"/><circle cx="1562.1" cy="678.4" r="21.5"/><circle cx="1563.7" cy="676.1" r="21.5"/><circle cx="1565.3" cy="673.8" r="21.5"/><circle cx="1566.8" cy="671.4" r="21.5"/><circle cx="1568.4" cy="669.1" r="21.5"/><circle cx="1570" cy="666.7" r="21.5"/><circle cx="1571.6" cy="664.4" r="21.5"/><circle cx="1573.2" cy="662.1" r="21.5"/><circle cx="1574.8" cy="659.8" r="21.5"/><circle cx="1576.4" cy="657.4" r="21.5"/><circle cx="1577.9" cy="655.1" r="21.5"/><circle cx="1579.5" cy="652.8" r="21.5"/><circle cx="1581.1" cy="650.5" r="21.5"/><circle cx="1582.7" cy="648.2" r="21.5"/><circle cx="1584.3" cy="645.9" r="21.5"/><circle cx="1585.9" cy="643.6" r="21.5"/><circle cx="1587.5" cy="641.3" r="21.5"/><circle cx="1589.1" cy="639" r="21.5"/><circle cx="1590.6" cy="636.7" r="21.5"/><circle cx="1592.2" cy="634.4" r="21.5"/><circle cx="1593.8" cy="632.1" r="21.5"/><circle cx="1595.4" cy="629.8" r="21.5"/><circle cx="1597" cy="627.5" r="21.5"/><circle cx="1598.6" cy="625.2" r="21.5"/><circle cx="1600.2" cy="622.9" r="21.5"/><circle cx="1601.7" cy="620.7" r="21.5"/><circle cx="1603.3" cy="618.4" r="21.5"/><circle cx="1604.9" cy="616.1" r="21.5"/><circle cx="1606.5" cy="613.8" r="21.5"/><circle cx="1608.1" cy="611.5" r="21.5"/><circle cx="1609.7" cy="609.3" r="21.5"/><circle cx="1611.3" cy="607" r="21.5"/><circle cx="1612.9" cy="604.7" r="21.5"/><circle cx="1614.4" cy="602.4" r="21.5"/><circle cx="1616" cy="600.2" r="21.5"/><circle cx="1617.6" cy="597.9" r="21.5"/><circle cx="1619.2" cy="595.6" r="21.5"/><circle cx="1620.8" cy="593.4" r="21.5"/><circle cx="1622.4" cy="591.1" r="21.5"/><circle cx="1624" cy="588.8" r="21.5"/><circle cx="1625.5" cy="586.6" r="21.5"/><circle cx="1627.1" cy="584.3" r="21.5"/><circle cx="1628.7" cy="582.1" r="21.5"/><circle cx="1630.3" cy="579.8" r="21.5"/><circle cx="1631.9" cy="577.5" r="21.5"/><circle cx="1633.5" cy="575.3" r="21.5"/><circle cx="1635.1" cy="573" r="21.5"/><circle cx="1636.7" cy="570.8" r="21.5"/><circle cx="1638.2" cy="568.5" r="21.5"/><circle cx="1639.8" cy="566.3" r="21.5"/><circle cx="1641.4" cy="564" r="21.5"/><circle cx="1643" cy="561.8" r="21.5"/><circle cx="1644.6" cy="559.5" r="21.5"/><circle cx="1646.2" cy="557.3" r="21.5"/><circle cx="1647.8" cy="555" r="21.5"/><circle cx="1649.3" cy="552.8" r="21.5"/><circle cx="1650.9" cy="550.5" r="21.5"/><circle cx="1652.5" cy="548.3" r="21.5"/><circle cx="1654.1" cy="546" r="21.5"/><circle cx="1655.7" cy="543.8" r="21.5"/><circle cx="1657.3" cy="541.5" r="21.5"/><circle cx="1658.9" cy="539.3" r="21.5"/><circle cx="1660.5" cy="537" r="21.5"/><circle cx="1662" cy="534.8" r="21.5"/><circle cx="1663.6" cy="532.5" r="21.5"/><circle cx="1665.2" cy="530.3" r="21.5"/><circle cx="1666.8" cy="528.1" r="21.5"/><circle cx="1668.4" cy="525.8" r="21.5"/><circle cx="1670" cy="523.6" r="21.5"/><circle cx="1671.6" cy="521.3" r="21.5"/><circle cx="1673.1" cy="519.1" r="21.5"/><circle cx="1674.7" cy="516.9" r="21.5"/><circle cx="1676.3" cy="514.6" r="21.5"/><circle cx="1677.9" cy="512.4" r="21.5"/><circle cx="1679.5" cy="510.1" r="21.5"/><circle cx="1681.1" cy="507.9" r="21.5"/><circle cx="1682.7" cy="505.7" r="21.5"/><circle cx="1684.3" cy="503.4" r="21.5"/><circle cx="1685.8" cy="501.2" r="21.5"/><circle cx="1687.4" cy="498.9" r="21.5"/><circle cx="1689" cy="496.7" r="21.5"/><circle cx="1690.6" cy="494.5" r="21.5"/><circle cx="1692.2" cy="492.2" r="21.5"/><circle cx="1693.8" cy="490" r="21.5"/><circle cx="1695.4" cy="487.8" r="21.5"/><circle cx="1696.9" cy="485.5" r="21.5"/><circle cx="1698.5" cy="483.3" r="21.5"/><circle cx="1700.1" cy="481" r="21.5"/><circle cx="1701.7" cy="478.8" r="21.5"/><circle cx="1703.3" cy="476.6" r="21.5"/><circle cx="1704.9" cy="474.3" r="21.5"/><circle cx="1706.5" cy="472.1" r="21.5"/><circle cx="1708.1" cy="469.9" r="21.5"/><circle cx="1709.6" cy="467.6" r="21.5"/><circle cx="1711.2" cy="465.4" r="21.5"/><circle cx="1712.8" cy="463.2" r="21.5"/><circle cx="1714.4" cy="460.9" r="21.5"/><circle cx="1716" cy="458.7" r="21.5"/><circle cx="1717.6" cy="456.4" r="21.5"/><circle cx="1719.2" cy="454.2" r="21.5"/><circle cx="1720.7" cy="452" r="21.5"/><circle cx="1722.3" cy="449.7" r="21.5"/><circle cx="1723.9" cy="447.5" r="21.5"/><circle cx="1725.5" cy="445.3" r="21.5"/><circle cx="1727.1" cy="443" r="21.5"/><circle cx="1728.7" cy="440.8" r="21.5"/><circle cx="1730.3" cy="438.6" r="21.5"/><circle cx="1731.9" cy="436.3" r="21.5"/><circle cx="1733.4" cy="434.1" r="21.5"/><circle cx="1735" cy="431.9" r="21.5"/><circle cx="1736.6" cy="429.6" r="21.5"/><circle cx="1738.2" cy="427.4" r="21.5"/><circle cx="1739.8" cy="425.2" r="21.5"/><circle cx="1741.4" cy="422.9" r="21.5"/><circle cx="1743" cy="420.7" r="21.5"/><circle cx="1744.6" cy="418.5" r="21.5"/><circle cx="1746.1" cy="416.2" r="21.5"/><circle cx="1747.7" cy="414" r="21.5"/><circle cx="1749.3" cy="411.8" r="21.5"/><circle cx="1750.9" cy="409.5" r="21.5"/><circle cx="1752.5" cy="407.3" r="21.5"/><circle cx="1754.1" cy="405.1" r="21.5"/><circle cx="1755.7" cy="402.8" r="21.5"/><circle cx="1757.2" cy="400.6" r="21.5"/><circle cx="1758.8" cy="398.4" r="21.5"/><circle cx="1760.4" cy="396.1" r="21.5"/><circle cx="1762" cy="393.9" r="21.5"/><circle cx="1763.6" cy="391.7" r="21.5"/><circle cx="1765.2" cy="389.4" r="21.5"/><circle cx="1766.8" cy="387.2" r="21.5"/><circle cx="1768.4" cy="385" r="21.5"/><circle cx="1769.9" cy="382.7" r="21.5"/><circle cx="1771.5" cy="380.5" r="21.5"/><circle cx="1773.1" cy="378.3" r="21.5"/><circle cx="1774.7" cy="376" r="21.5"/><circle cx="1776.3" cy="373.8" r="21.5"/><circle cx="1777.9" cy="371.6" r="21.5"/><circle cx="1779.5" cy="369.3" r="21.5"/><circle cx="1781" cy="367.1" r="21.5"/><circle cx="1782.6" cy="364.9" r="21.5"/><circle cx="1784.2" cy="362.6" r="21.5"/><circle cx="1785.8" cy="360.4" r="21.5"/><circle cx="1787.4" cy="358.2" r="21.5"/><circle cx="1789" cy="355.9" r="21.5"/><circle cx="1790.6" cy="353.7" r="21.5"/><circle cx="1792.2" cy="351.5" r="21.5"/><circle cx="1793.7" cy="349.2" r="21.5"/><circle cx="1795.3" cy="347" r="21.5"/><circle cx="1796.9" cy="344.8" r="21.5"/><circle cx="1798.5" cy="342.6" r="21.5"/><circle cx="1800.1" cy="340.3" r="21.5"/><circle cx="1801.7" cy="338.1" r="21.5"/><circle cx="1803.3" cy="335.9" r="21.5"/><circle cx="1804.8" cy="333.6" r="21.5"/><circle cx="1806.4" cy="331.4" r="21.5"/><circle cx="1808" cy="329.2" r="21.5"/><circle cx="1809.6" cy="326.9" r="21.5"/><circle cx="1811.2" cy="324.7" r="21.5"/><circle cx="1812.8" cy="322.5" r="21.5"/><circle cx="1814.4" cy="320.2" r="21.5"/><circle cx="1816" cy="318" r="21.5"/><circle cx="1817.5" cy="315.8" r="21.5"/><circle cx="1819.1" cy="313.6" r="21.5"/><circle cx="1820.7" cy="311.3" r="21.5"/><circle cx="1822.3" cy="309.1" r="21.5"/><circle cx="1823.9" cy="306.9" r="21.5"/><circle cx="1825.5" cy="304.6" r="21.5"/><circle cx="1827.1" cy="302.4" r="21.5"/><circle cx="1828.6" cy="300.2" r="21.5"/><circle cx="1830.2" cy="298" r="21.5"/><circle cx="1831.8" cy="295.7" r="21.5"/><circle cx="1833.4" cy="293.5" r="21.5"/><circle cx="1835" cy="291.3" r="21.5"/><circle cx="1836.6" cy="289.1" r="21.5"/><circle cx="1838.2" cy="286.8" r="21.5"/><circle cx="1839.8" cy="284.6" r="21.5"/><circle cx="1841.3" cy="282.4" r="21.5"/><circle cx="1842.9" cy="280.1" r="21.5"/><circle cx="1844.5" cy="277.9" r="21.5"/><circle cx="1846.1" cy="275.7" r="21.5"/>
</g>
<g fill="#fff" stroke="#0000ff" stroke-width="7.3" stroke-linejoin="round">
<path d="M934 604.9l26.1 -45.2h-52.2z"/><path d="M935.6 605.9l26.1 -45.2h-52.2z"/><path d="M937.2 606.8l26.1 -45.2h-52.2z"/><path d="M938.8 607.7l26.1 -45.2h-52.2z"/><path d="M940.4 608.7l26.1 -45.2h-52.2z"/><path d="M941.9 609.6l26.1 -45.2h-52.2z"/><path d="M943.5 610.5l26.1 -45.2h-52.2z"/><path d="M945.1 611.5l26.1 -45.2h-52.2z"/><path d="M946.7 612.4l26.1 -45.2h-52.2z"/><path d="M948.3 613.3l26.1 -45.2h-52.2z"/><path d="M949.9 614.3l26.1 -45.2h-52.2z"/><path d="M951.5 615.2l26.1 -45.2h-52.2z"/><path d="M953.1 616.2l26.1 -45.2h-52.2z"/><path d="M954.7 617.2l26.1 -45.2h-52.2z"/><path d="M956.3 618.1l26.1 -45.2h-52.2z"/><path d="M957.8 619.1l26.1 -45.2h-52.2z"/><path d="M959.4 620l26.1 -45.2h-52.2z"/><path d="M961 621l26.1 -45.2h-52.2z"/><path d="M962.6 622l26.1 -45.2h-52.2z"/><path d="M964.2 622.9l26.1 -45.2h-52.2z"/><path d="M965.8 623.9l26.1 -45.2h-52.2z"/><path d="M967.4 624.9l26.1 -45.2h-52.2z"/><path d="M969 625.8l26.1 -45.2h-52.2z"/><path d="M970.6 626.8l26.1 -45.2h-52.2z"/><path d="M972.1 627.8l26.1 -45.2h-52.2z"/><path d="M973.7 628.8l26.1 -45.2h-52.2z"/><path d="M975.3 629.8l26.1 -45.2h-52.2z"/><path d="M976.9 630.8l26.1 -45.2h-52.2z"/><path d="M978.5 631.7l26.1 -45.2h-52.2z"/><path d="M980.1 632.7l26.1 -45.2h-52.2z"/><path d="M981.7 633.7l26.1 -45.2h-52.2z"/><path d="M983.3 634.7l26.1 -45.2h-52.2z"/><path d="M984.9 635.7l26.1 -45.2h-52.2z"/><path d="M986.4 636.7l26.1 -45.2h-52.2z"/><path d="M988 637.7l26.1 -45.2h-52.2z"/><path d="M989.6 638.7l26.1 -45.2h-52.2z"/><path d="M991.2 639.7l26.1 -45.2h-52.2z"/><path d="M992.8 640.7l26.1 -45.2h-52.2z"/><path d="M994.4 641.7l26.1 -45.2h-52.2z"/><path d="M996 642.7l26.1 -45.2h-52.2z"/><path d="M997.6 643.7l26.1 -45.2h-52.2z"/><path d="M999.2 644.8l26.1 -45.2h-52.2z"/><path d="M1000.8 645.8l26.1 -45.2h-52.2z"/><path d="M1002.3 646.8l26.1 -45.2h-52.2z"/><path d="M1003.9 647.8l26.1 -45.2h-52.2z"/><path d="M1005.5 648.8l26.1 -45.2h-52.2z"/><path d="M1007.1 649.8l26.1 -45.2h-52.2z"/><path d="M1008.7 650.9l26.1 -45.2h-52.2z"/><path d="M1010.3 651.9l26.1 -45.2h-52.2z"/><path d="M1011.9 652.9l26.1 -45.2h-52.2z"/><path d="M1013.5 653.9l26.1 -45.2h-52.2z"/><path d="M1015.1 655l26.1 -45.2h-52.2z"/><path d="M1016.6 656l26.1 -45.2h-52.2z"/><path d="M1018.2 657l26.1 -45.2h-52.2z"/><path d="M1019.8 658.1l26.1 -45.2h-52.2z"/><path d="M1021.4 659.1l26.1 -45.2h-52.2z"/><path d="M1023 660.1l26.1 -45.2h-52.2z"/><path d="M1024.6 661.2l26.1 -45.2h-52.2z"/><path d="M1026.2 662.2l26.1 -45.2h-52.2z"/><path d="M1027.8 663.2l26.1 -45.2h-52.2z"/><path d="M1029.4 664.3l26.1 -45.2h-52.2z"/><path d="M1031 665.3l26.1 -45.2h-52.2z"/><path d="M1032.5 666.3l26.1 -45.2h-52.2z"/><path d="M1034.1 667.4l26.1 -45.2h-52.2z"/><path d="M1035.7 668.4l26.1 -45.2h-52.2z"/><path d="M1037.3 669.5l26.1 -45.2h-52.2z"/><path d="M1038.9 670.5l26.1 -45.2h-52.2z"/><path d="M1040.5 671.6l26.1 -45.2h-52.2z"/><path d="M1042.1 672.6l26.1 -45.2h-52.2z"/><path d="M1043.7 673.7l26.1 -45.2h-52.2z"/><path d="M1045.3 674.7l26.1 -45.2h-52.2z"/><path d="M1046.8 675.8l26.1 -45.2h-52.2z"/><path d="M1048.4 676.8l26.1 -45.2h-52.2z"/><path d="M1050 677.9l26.1 -45.2h-52.2z"/><path d="M1051.6 678.9l26.1 -45.2h-52.2z"/><path d="M1053.2 680l26.1 -45.2h-52.2z"/><path d="M1054.8 681.1l26.1 -45.2h-52.2z"/><path d="M1056.4 682.1l26.1 -45.2h-52.2z"/><path d="M1058 683.2l26.1 -45.2h-52.2z"/><path d="M1059.6 684.2l26.1 -45.2h-52.2z"/><path d="M1061.1 685.3l26.1 -45.2h-52.2z"/><path d="M1062.7 686.3l26.1 -45.2h-52.2z"/><path d="M1064.3 687.4l26.1 -45.2h-52.2z"/><path d="M1065.9 688.5l26.1 -45.2h-52.2z"/><path d="M1067.5 689.5l26.1 -45.2h-52.2z"/><path d="M1069.1 690.6l26.1 -45.2h-52.2z"/><path d="M1070.7 691.7l26.1 -45.2h-52.2z"/><path d="M1072.3 692.7l26.1 -45.2h-52.2z"/><path d="M1073.9 693.8l26.1 -45.2h-52.2z"/><path d="M1075.5 694.9l26.1 -45.2h-52.2z"/><path d="M1077 695.9l26.1 -45.2h-52.2z"/><path d="M1078.6 697l26.1 -45.2h-52.2z"/><path d="M1080.2 698.1l26.1 -45.2h-52.2z"/><path d="M1081.8 699.1l26.1 -45.2h-52.2z"/><path d="M1083.4 700.2l26.1 -45.2h-52.2z"/><path d="M1085 701.3l26.1 -45.2h-52.2z"/><path d="M1086.6 702.4l26.1 -45.2h-52.2z"/><path d="M1088.2 703.4l26.1 -45.2h-52.2z"/><path d="M1089.8 704.5l26.1 -45.2h-52.2z"/><path d="M1091.3 705.6l26.1 -45.2h-52.2z"/><path d="M1092.9 706.7l26.1 -45.2h-52.2z"/><path d="M1094.5 707.7l26.1 -45.2h-52.2z"/><path d="M1096.1 708.8l26.1 -45.2h-52.2z"/><path d="M1097.7 709.9l26.1 -45.2h-52.2z"/><path d="M1099.3 711l26.1 -45.2h-52.2z"/><path d="M1100.9 712l26.1 -45.2h-52.2z"/><path d="M1102.5 713.1l26.1 -45.2h-52.2z"/><path d="M1104.1 714.2l26.1 -45.2h-52.2z"/><path d="M1105.7 715.3l26.1 -45.2h-52.2z"/><path d="M1107.2 716.4l26.1 -45.2h-52.2z"/><path d="M1108.8 717.4l26.1 -45.2h-52.2z"/><path d="M1110.4 718.5l26.1 -45.2h-52.2z"/><path d="M1112 719.6l26.1 -45.2h-52.2z"/><path d="M1113.6 720.7l26.1 -45.2h-52.2z"/><path d="M1115.2 721.8l26.1 -45.2h-52.2z"/><path d="M1116.8 722.9l26.1 -45.2h-52.2z"/><path d="M1118.4 723.9l26.1 -45.2h-52.2z"/><path d="M1120 725l26.1 -45.2h-52.2z"/><path d="M1121.5 726.1l26.1 -45.2h-52.2z"/><path d="M1123.1 727.2l26.1 -45.2h-52.2z"/><path d="M1124.7 728.3l26.1 -45.2h-52.2z"/><path d="M1126.3 729.4l26.1 -45.2h-52.2z"/><path d="M1127.9 730.5l26.1 -45.2h-52.2z"/><path d="M1129.5 731.5l26.1 -45.2h-52.2z"/><path d="M1131.1 732.6l26.1 -45.2h-52.2z"/><path d="M1132.7 733.7l26.1 -45.2h-52.2z"/><path d="M1134.3 734.8l26.1 -45.2h-52.2z"/><path d="M1135.8 735.9l26.1 -45.2h-52.2z"/><path d="M1137.4 737l26.1 -45.2h-52.2z"/><path d="M1139 738.1l26.1 -45.2h-52.2z"/><path d="M1140.6 739.2l26.1 -45.2h-52.2z"/><path d="M1142.2 740.3l26.1 -45.2h-52.2z"/><path d="M1143.8 741.4l26.1 -45.2h-52.2z"/><path d="M1145.4 742.4l26.1 -45.2h-52.2z"/><path d="M1147 743.5l26.1 -45.2h-52.2z"/><path d="M1148.6 744.6l26.1 -45.2h-52.2z"/><path d="M1150.2 745.7l26.1 -45.2h-52.2z"/><path d="M1151.7 746.8l26.1 -45.2h-52.2z"/><path d="M1153.3 747.9l26.1 -45.2h-52.2z"/><path d="M1154.9 749l26.1 -45.2h-52.2z"/><path d="M1156.5 750.1l26.1 -45.2h-52.2z"/><path d="M1158.1 751.2l26.1 -45.2h-52.2z"/><path d="M1159.7 752.3l26.1 -45.2h-52.2z"/><path d="M1161.3 753.4l26.1 -45.2h-52.2z"/><path d="M1162.9 754.5l26.1 -45.2h-52.2z"/><path d="M1164.5 755.6l26.1 -45.2h-52.2z"/><path d="M1166 756.7l26.1 -45.2h-52.2z"/><path d="M1167.6 757.8l26.1 -45.2h-52.2z"/><path d="M1169.2 758.9l26.1 -45.2h-52.2z"/><path d="M1170.8 760l26.1 -45.2h-52.2z"/><path d="M1172.4 761.1l26.1 -45.2h-52.2z"/><path d="M1174 762.2l26.1 -45.2h-52.2z"/><path d="M1175.6 763.3l26.1 -45.2h-52.2z"/><path d="M1177.2 764.5l26.1 -45.2h-52.2z"/><path d="M1178.8 765.6l26.1 -45.2h-52.2z"/><path d="M1180.4 766.7l26.1 -45.2h-52.2z"/><path d="M1181.9 767.8l26.1 -45.2h-52.2z"/><path d="M1183.5 768.9l26.1 -45.2h-52.2z"/><path d="M1185.1 770l26.1 -45.2h-52.2z"/><path d="M1186.7 771.1l26.1 -45.2h-52.2z"/><path d="M1188.3 772.2l26.1 -45.2h-52.2z"/><path d="M1189.9 773.4l26.1 -45.2h-52.2z"/><path d="M1191.5 774.5l26.1 -45.2h-52.2z"/><path d="M1193.1 775.6l26.1 -45.2h-52.2z"/><path d="M1194.7 776.7l26.1 -45.2h-52.2z"/><path d="M1196.2 777.8l26.1 -45.2h-52.2z"/><path d="M1197.8 779l26.1 -45.2h-52.2z"/><path d="M1199.4 780.1l26.1 -45.2h-52.2z"/><path d="M1201 781.2l26.1 -45.2h-52.2z"/><path d="M1202.6 782.3l26.1 -45.2h-52.2z"/><path d="M1204.2 783.5l26.1 -45.2h-52.2z"/><path d="M1205.8 784.6l26.1 -45.2h-52.2z"/><path d="M1207.4 785.7l26.1 -45.2h-52.2z"/><path d="M1209 786.9l26.1 -45.2h-52.2z"/><path d="M1210.6 788l26.1 -45.2h-52.2z"/><path d="M1212.1 789.2l26.1 -45.2h-52.2z"/><path d="M1213.7 790.3l26.1 -45.2h-52.2z"/><path d="M1215.3 791.4l26.1 -45.2h-52.2z"/><path d="M1216.9 792.6l26.1 -45.2h-52.2z"/><path d="M1218.5 793.7l26.1 -45.2h-52.2z"/><path d="M1220.1 794.9l26.1 -45.2h-52.2z"/><path d="M1221.7 796l26.1 -45.2h-52.2z"/><path d="M1223.3 797.2l26.1 -45.2h-52.2z"/><path d="M1224.9 798.4l26.1 -45.2h-52.2z"/><path d="M1226.4 799.5l26.1 -45.2h-52.2z"/><path d="M1228 800.7l26.1 -45.2h-52.2z"/><path d="M1229.6 801.9l26.1 -45.2h-52.2z"/><path d="M1231.2 803l26.1 -45.2h-52.2z"/><path d="M1232.8 804.2l26.1 -45.2h-52.2z"/><path d="M1234.4 805.4l26.1 -45.2h-52.2z"/><path d="M1236 806.6l26.1 -45.2h-52.2z"/><path d="M1237.6 807.7l26.1 -45.2h-52.2z"/><path d="M1239.2 808.9l26.1 -45.2h-52.2z"/><path d="M1240.7 810.1l26.1 -45.2h-52.2z"/><path d="M1242.3 811.3l26.1 -45.2h-52.2z"/><path d="M1243.9 812.5l26.1 -45.2h-52.2z"/><path d="M1245.5 813.7l26.1 -45.2h-52.2z"/><path d="M1247.1 814.9l26.1 -45.2h-52.2z"/><path d="M1248.7 816.2l26.1 -45.2h-52.2z"/><path d="M1250.3 817.4l26.1 -45.2h-52.2z"/><path d="M1251.9 818.6l26.1 -45.2h-52.2z"/><path d="M1253.5 819.8l26.1 -45.2h-52.2z"/><path d="M1255.1 821.1l26.1 -45.2h-52.2z"/><path d="M1256.6 822.3l26.1 -45.2h-52.2z"/><path d="M1258.2 823.5l26.1 -45.2h-52.2z"/><path d="M1259.8 824.8l26.1 -45.2h-52.2z"/><path d="M1261.4 826.1l26.1 -45.2h-52.2z"/><path d="M1263 827.3l26.1 -45.2h-52.2z"/><path d="M1264.6 828.6l26.1 -45.2h-52.2z"/><path d="M1266.2 829.9l26.1 -45.2h-52.2z"/><path d="M1267.8 831.2l26.1 -45.2h-52.2z"/><path d="M1269.4 832.4l26.1 -45.2h-52.2z"/><path d="M1270.9 833.7l26.1 -45.2h-52.2z"/><path d="M1272.5 835.1l26.1 -45.2h-52.2z"/><path d="M1274.1 836.4l26.1 -45.2h-52.2z"/><path d="M1275.7 837.7l26.1 -45.2h-52.2z"/><path d="M1277.3 839l26.1 -45.2h-52.2z"/><path d="M1278.9 840.4l26.1 -45.2h-52.2z"/><path d="M1280.5 841.7l26.1 -45.2h-52.2z"/><path d="M1282.1 843.1l26.1 -45.2h-52.2z"/><path d="M1283.7 844.4l26.1 -45.2h-52.2z"/><path d="M1285.3 845.8l26.1 -45.2h-52.2z"/><path d="M1286.8 847.2l26.1 -45.2h-52.2z"/><path d="M1288.4 848.6l26.1 -45.2h-52.2z"/><path d="M1290 850l26.1 -45.2h-52.2z"/><path d="M1291.6 851.5l26.1 -45.2h-52.2z"/><path d="M1293.2 852.9l26.1 -45.2h-52.2z"/><path d="M1294.8 854.4l26.1 -45.2h-52.2z"/><path d="M1296.4 855.8l26.1 -45.2h-52.2z"/><path d="M1298 857.3l26.1 -45.2h-52.2z"/><path d="M1299.6 858.8l26.1 -45.2h-52.2z"/><path d="M1301.1 860.3l26.1 -45.2h-52.2z"/><path d="M1302.7 861.8l26.1 -45.2h-52.2z"/><path d="M1304.3 863.4l26.1 -45.2h-52.2z"/><path d="M1305.9 864.9l26.1 -45.2h-52.2z"/><path d="M1307.5 866.5l26.1 -45.2h-52.2z"/><path d="M1309.1 868.1l26.1 -45.2h-52.2z"/><path d="M1310.7 869.7l26.1 -45.2h-52.2z"/><path d="M1312.3 871.4l26.1 -45.2h-52.2z"/><path d="M1313.9 873l26.1 -45.2h-52.2z"/><path d="M1315.4 874.7l26.1 -45.2h-52.2z"/><path d="M1317 876.4l26.1 -45.2h-52.2z"/><path d="M1318.6 878.1l26.1 -45.2h-52.2z"/><path d="M1320.2 879.9l26.1 -45.2h-52.2z"/><path d="M1321.8 881.7l26.1 -45.2h-52.2z"/><path d="M1323.4 883.5l26.1 -45.2h-52.2z"/><path d="M1325 885.3l26.1 -45.2h-52.2z"/><path d="M1326.6 887.1l26.1 -45.2h-52.2z"/><path d="M1328.2 889l26.1 -45.2h-52.2z"/><path d="M1329.8 891l26.1 -45.2h-52.2z"/><path d="M1331.3 892.9l26.1 -45.2h-52.2z"/><path d="M1332.9 894.9l26.1 -45.2h-52.2z"/><path d="M1334.5 897l26.1 -45.2h-52.2z"/><path d="M1336.1 899l26.1 -45.2h-52.2z"/><path d="M1337.7 901.1l26.1 -45.2h-52.2z"/><path d="M1339.3 903.3l26.1 -45.2h-52.2z"/><path d="M1340.9 905.5l26.1 -45.2h-52.2z"/><path d="M1342.5 907.8l26.1 -45.2h-52.2z"/><path d="M1344.1 910.1l26.1 -45.2h-52.2z"/><path d="M1345.6 912.5l26.1 -45.2h-52.2z"/><path d="M1347.2 914.9l26.1 -45.2h-52.2z"/><path d="M1348.8 917.4l26.1 -45.2h-52.2z"/><path d="M1350.4 920l26.1 -45.2h-52.2z"/><path d="M1352 922.6l26.1 -45.2h-52.2z"/><path d="M1353.6 925.3l26.1 -45.2h-52.2z"/><path d="M1355.2 928.1l26.1 -45.2h-52.2z"/><path d="M1356.8 931l26.1 -45.2h-52.2z"/><path d="M1358.4 934l26.1 -45.2h-52.2z"/><path d="M1360 937l26.1 -45.2h-52.2z"/><path d="M1361.5 940.2l26.1 -45.2h-52.2z"/><path d="M1363.1 943.5l26.1 -45.2h-52.2z"/><path d="M1364.7 946.9l26.1 -45.2h-52.2z"/><path d="M1366.3 950.4l26.1 -45.2h-52.2z"/><path d="M1367.9 954.1l26.1 -45.2h-52.2z"/><path d="M1369.5 957.9l26.1 -45.2h-52.2z"/><path d="M1371.1 961.9l26.1 -45.2h-52.2z"/><path d="M1372.7 966l26.1 -45.2h-52.2z"/><path d="M1374.3 970.4l26.1 -45.2h-52.2z"/><path d="M1375.8 974.9l26.1 -45.2h-52.2z"/><path d="M1377.4 979.7l26.1 -45.2h-52.2z"/><path d="M1379 984.7l26.1 -45.2h-52.2z"/><path d="M1380.6 989.9l26.1 -45.2h-52.2z"/><path d="M1382.2 995.5l26.1 -45.2h-52.2z"/><path d="M1383.8 1001.3l26.1 -45.2h-52.2z"/><path d="M1385.4 1007.6l26.1 -45.2h-52.2z"/><path d="M1387 1014.2l26.1 -45.2h-52.2z"/><path d="M1388.6 1021.3l26.1 -45.2h-52.2z"/><path d="M1390.1 1028.9l26.1 -45.2h-52.2z"/><path d="M1391.7 1037.1l26.1 -45.2h-52.2z"/><path d="M1393.3 1046l26.1 -45.2h-52.2z"/><path d="M1394.9 1055.7l26.1 -45.2h-52.2z"/><path d="M1396.5 1066.4l26.1 -45.2h-52.2z"/><path d="M1398.1 1078.3l26.1 -45.2h-52.2z"/><path d="M1399.7 1091.7l26.1 -45.2h-52.2z"/><path d="M1401.3 1106.9l26.1 -45.2h-52.2z"/><path d="M1402.9 1124.6l26.1 -45.2h-52.2z"/><path d="M1404.5 1145.7l26.1 -45.2h-52.2z"/><path d="M1406 1171.9l26.1 -45.2h-52.2z"/><path d="M1407.6 1206.3l26.1 -45.2h-52.2z"/><path d="M1409.2 1256.4l26.1 -45.2h-52.2z"/><path d="M1410.8 1350.6l26.1 -45.2h-52.2z"/><path d="M1412.4 1474.5l26.1 -45.2h-52.2z"/><path d="M1414 1293.7l26.1 -45.2h-52.2z"/><path d="M1415.6 1228.5l26.1 -45.2h-52.2z"/><path d="M1417.2 1187.6l26.1 -45.2h-52.2z"/><path d="M1418.8 1157.7l26.1 -45.2h-52.2z"/><path d="M1420.3 1134.1l26.1 -45.2h-52.2z"/><path d="M1421.9 1114.5l26.1 -45.2h-52.2z"/><path d="M1423.5 1097.8l26.1 -45.2h-52.2z"/><path d="M1425.1 1083.2l26.1 -45.2h-52.2z"/><path d="M1426.7 1070.1l26.1 -45.2h-52.2z"/><path d="M1428.3 1058.3l26.1 -45.2h-52.2z"/><path d="M1429.9 1047.6l26.1 -45.2h-52.2z"/><path d="M1431.5 1037.6l26.1 -45.2h-52.2z"/><path d="M1433 1028.4l26.1 -45.2h-52.2z"/><path d="M1434.6 1019.8l26.1 -45.2h-52.2z"/><path d="M1436.2 1011.7l26.1 -45.2h-52.2z"/><path d="M1437.8 1004.1l26.1 -45.2h-52.2z"/><path d="M1439.4 996.8l26.1 -45.2h-52.2z"/><path d="M1441 989.9l26.1 -45.2h-52.2z"/><path d="M1442.6 983.3l26.1 -45.2h-52.2z"/><path d="M1444.2 976.9l26.1 -45.2h-52.2z"/><path d="M1445.7 970.8l26.1 -45.2h-52.2z"/><path d="M1447.3 965l26.1 -45.2h-52.2z"/><path d="M1448.9 959.3l26.1 -45.2h-52.2z"/><path d="M1450.5 953.8l26.1 -45.2h-52.2z"/><path d="M1452.1 948.5l26.1 -45.2h-52.2z"/><path d="M1453.7 943.3l26.1 -45.2h-52.2z"/><path d="M1455.3 938.3l26.1 -45.2h-52.2z"/><path d="M1456.9 933.4l26.1 -45.2h-52.2z"/><path d="M1458.4 928.6l26.1 -45.2h-52.2z"/><path d="M1460 923.9l26.1 -45.2h-52.2z"/><path d="M1461.6 919.4l26.1 -45.2h-52.2z"/><path d="M1463.2 914.9l26.1 -45.2h-52.2z"/><path d="M1464.8 910.5l26.1 -45.2h-52.2z"/><path d="M1466.4 906.3l26.1 -45.2h-52.2z"/><path d="M1468 902.1l26.1 -45.2h-52.2z"/><path d="M1469.6 898l26.1 -45.2h-52.2z"/><path d="M1471.1 894l26.1 -45.2h-52.2z"/><path d="M1472.7 890l26.1 -45.2h-52.2z"/><path d="M1474.3 886.1l26.1 -45.2h-52.2z"/><path d="M1475.9 882.3l26.1 -45.2h-52.2z"/><path d="M1477.5 878.6l26.1 -45.2h-52.2z"/><path d="M1479.1 874.9l26.1 -45.2h-52.2z"/><path d="M1480.7 871.3l26.1 -45.2h-52.2z"/><path d="M1482.3 867.7l26.1 -45.2h-52.2z"/><path d="M1483.8 864.2l26.1 -45.2h-52.2z"/><path d="M1485.4 860.7l26.1 -45.2h-52.2z"/><path d="M1487 857.4l26.1 -45.2h-52.2z"/><path d="M1488.6 854l26.1 -45.2h-52.2z"/><path d="M1490.2 850.7l26.1 -45.2h-52.2z"/><path d="M1491.8 847.5l26.1 -45.2h-52.2z"/><path d="M1493.4 844.3l26.1 -45.2h-52.2z"/><path d="M1495 841.1l26.1 -45.2h-52.2z"/><path d="M1496.5 838l26.1 -45.2h-52.2z"/><path d="M1498.1 834.9l26.1 -45.2h-52.2z"/><path d="M1499.7 831.9l26.1 -45.2h-52.2z"/><path d="M1501.3 828.9l26.1 -45.2h-52.2z"/><path d="M1502.9 825.9l26.1 -45.2h-52.2z"/><path d="M1504.5 822.9l26.1 -45.2h-52.2z"/><path d="M1506.1 820l26.1 -45.2h-52.2z"/><path d="M1507.7 817.2l26.1 -45.2h-52.2z"/><path d="M1509.2 814.3l26.1 -45.2h-52.2z"/><path d="M1510.8 811.5l26.1 -45.2h-52.2z"/><path d="M1512.4 808.7l26.1 -45.2h-52.2z"/><path d="M1514 805.9l26.1 -45.2h-52.2z"/><path d="M1515.6 803.2l26.1 -45.2h-52.2z"/><path d="M1517.2 800.5l26.1 -45.2h-52.2z"/><path d="M1518.8 797.8l26.1 -45.2h-52.2z"/><path d="M1520.4 795.1l26.1 -45.2h-52.2z"/><path d="M1521.9 792.4l26.1 -45.2h-52.2z"/><path d="M1523.5 789.8l26.1 -45.2h-52.2z"/><path d="M1525.1 787.2l26.1 -45.2h-52.2z"/><path d="M1526.7 784.6l26.1 -45.2h-52.2z"/><path d="M1528.3 782l26.1 -45.2h-52.2z"/><path d="M1529.9 779.4l26.1 -45.2h-52.2z"/><path d="M1531.5 776.9l26.1 -45.2h-52.2z"/><path d="M1533.1 774.4l26.1 -45.2h-52.2z"/><path d="M1534.7 771.8l26.1 -45.2h-52.2z"/><path d="M1536.2 769.3l26.1 -45.2h-52.2z"/><path d="M1537.8 766.9l26.1 -45.2h-52.2z"/><path d="M1539.4 764.4l26.1 -45.2h-52.2z"/><path d="M1541 761.9l26.1 -45.2h-52.2z"/><path d="M1542.6 759.5l26.1 -45.2h-52.2z"/><path d="M1544.2 757.1l26.1 -45.2h-52.2z"/><path d="M1545.8 754.6l26.1 -45.2h-52.2z"/><path d="M1547.4 752.2l26.1 -45.2h-52.2z"/><path d="M1548.9 749.8l26.1 -45.2h-52.2z"/><path d="M1550.5 747.5l26.1 -45.2h-52.2z"/><path d="M1552.1 745.1l26.1 -45.2h-52.2z"/><path d="M1553.7 742.7l26.1 -45.2h-52.2z"/><path d="M1555.3 740.4l26.1 -45.2h-52.2z"/><path d="M1556.9 738l26.1 -45.2h-52.2z"/><path d="M1558.5 735.7l26.1 -45.2h-52.2z"/><path d="M1560.1 733.4l26.1 -45.2h-52.2z"/><path d="M1561.6 731.1l26.1 -45.2h-52.2z"/><path d="M1563.2 728.8l26.1 -45.2h-52.2z"/><path d="M1564.8 726.5l26.1 -45.2h-52.2z"/><path d="M1566.4 724.2l26.1 -45.2h-52.2z"/><path d="M1568 721.9l26.1 -45.2h-52.2z"/><path d="M1569.6 719.7l26.1 -45.2h-52.2z"/><path d="M1571.2 717.4l26.1 -45.2h-52.2z"/><path d="M1572.8 715.2l26.1 -45.2h-52.2z"/><path d="M1574.3 712.9l26.1 -45.2h-52.2z"/><path d="M1575.9 710.7l26.1 -45.2h-52.2z"/><path d="M1577.5 708.4l26.1 -45.2h-52.2z"/><path d="M1579.1 706.2l26.1 -45.2h-52.2z"/><path d="M1580.7 704l26.1 -45.2h-52.2z"/><path d="M1582.3 701.8l26.1 -45.2h-52.2z"/><path d="M1583.9 699.6l26.1 -45.2h-52.2z"/><path d="M1585.5 697.4l26.1 -45.2h-52.2z"/><path d="M1587 695.2l26.1 -45.2h-52.2z"/><path d="M1588.6 693l26.1 -45.2h-52.2z"/><path d="M1590.2 690.8l26.1 -45.2h-52.2z"/><path d="M1591.8 688.7l26.1 -45.2h-52.2z"/><path d="M1593.4 686.5l26.1 -45.2h-52.2z"/><path d="M1595 684.3l26.1 -45.2h-52.2z"/><path d="M1596.6 682.2l26.1 -45.2h-52.2z"/><path d="M1598.2 680l26.1 -45.2h-52.2z"/><path d="M1599.7 677.9l26.1 -45.2h-52.2z"/><path d="M1601.3 675.7l26.1 -45.2h-52.2z"/><path d="M1602.9 673.6l26.1 -45.2h-52.2z"/><path d="M1604.5 671.5l26.1 -45.2h-52.2z"/><path d="M1606.1 669.3l26.1 -45.2h-52.2z"/><path d="M1607.7 667.2l26.1 -45.2h-52.2z"/><path d="M1609.3 665.1l26.1 -45.2h-52.2z"/><path d="M1610.9 663l26.1 -45.2h-52.2z"/><path d="M1612.4 660.8l26.1 -45.2h-52.2z"/><path d="M1614 658.7l26.1 -45.2h-52.2z"/><path d="M1615.6 656.6l26.1 -45.2h-52.2z"/><path d="M1617.2 654.5l26.1 -45.2h-52.2z"/><path d="M1618.8 652.4l26.1 -45.2h-52.2z"/><path d="M1620.4 650.3l26.1 -45.2h-52.2z"/><path d="M1622 648.2l26.1 -45.2h-52.2z"/><path d="M1623.6 646.2l26.1 -45.2h-52.2z"/><path d="M1625.1 644.1l26.1 -45.2h-52.2z"/><path d="M1626.7 642l26.1 -45.2h-52.2z"/><path d="M1628.3 639.9l26.1 -45.2h-52.2z"/><path d="M1629.9 637.8l26.1 -45.2h-52.2z"/><path d="M1631.5 635.8l26.1 -45.2h-52.2z"/><path d="M1633.1 633.7l26.1 -45.2h-52.2z"/><path d="M1634.7 631.6l26.1 -45.2h-52.2z"/><path d="M1636.3 629.5l26.1 -45.2h-52.2z"/><path d="M1637.8 627.5l26.1 -45.2h-52.2z"/><path d="M1639.4 625.4l26.1 -45.2h-52.2z"/><path d="M1641 623.4l26.1 -45.2h-52.2z"/><path d="M1642.6 621.3l26.1 -45.2h-52.2z"/><path d="M1644.2 619.3l26.1 -45.2h-52.2z"/><path d="M1645.8 617.2l26.1 -45.2h-52.2z"/><path d="M1647.4 615.1l26.1 -45.2h-52.2z"/><path d="M1649 613.1l26.1 -45.2h-52.2z"/><path d="M1650.6 611.1l26.1 -45.2h-52.2z"/><path d="M1652.1 609l26.1 -45.2h-52.2z"/><path d="M1653.7 607l26.1 -45.2h-52.2z"/><path d="M1655.3 604.9l26.1 -45.2h-52.2z"/><path d="M1656.9 602.9l26.1 -45.2h-52.2z"/><path d="M1658.5 600.9l26.1 -45.2h-52.2z"/><path d="M1660.1 598.8l26.1 -45.2h-52.2z"/><path d="M1661.7 596.8l26.1 -45.2h-52.2z"/><path d="M1663.3 594.8l26.1 -45.2h-52.2z"/><path d="M1664.8 592.7l26.1 -45.2h-52.2z"/><path d="M1666.4 590.7l26.1 -45.2h-52.2z"/><path d="M1668 588.7l26.1 -45.2h-52.2z"/><path d="M1669.6 586.6l26.1 -45.2h-52.2z"/><path d="M1671.2 584.6l26.1 -45.2h-52.2z"/><path d="M1672.8 582.6l26.1 -45.2h-52.2z"/><path d="M1674.4 580.6l26.1 -45.2h-52.2z"/><path d="M1676 578.5l26.1 -45.2h-52.2z"/><path d="M1677.5 576.5l26.1 -45.2h-52.2z"/><path d="M1679.1 574.5l26.1 -45.2h-52.2z"/><path d="M1680.7 572.5l26.1 -45.2h-52.2z"/><path d="M1682.3 570.5l26.1 -45.2h-52.2z"/><path d="M1683.9 568.5l26.1 -45.2h-52.2z"/><path d="M1685.5 566.4l26.1 -45.2h-52.2z"/><path d="M1687.1 564.4l26.1 -45.2h-52.2z"/><path d="M1688.7 562.4l26.1 -45.2h-52.2z"/><path d="M1690.2 560.4l26.1 -45.2h-52.2z"/><path d="M1691.8 558.4l26.1 -45.2h-52.2z"/><path d="M1693.4 556.4l26.1 -45.2h-52.2z"/><path d="M1695 554.4l26.1 -45.2h-52.2z"/><path d="M1696.6 552.4l26.1 -45.2h-52.2z"/><path d="M1698.2 550.3l26.1 -45.2h-52.2z"/><path d="M1699.8 548.3l26.1 -45.2h-52.2z"/><path d="M1701.4 546.3l26.1 -45.2h-52.2z"/><path d="M1702.9 544.3l26.1 -45.2h-52.2z"/><path d="M1704.5 542.3l26.1 -45.2h-52.2z"/><path d="M1706.1 540.3l26.1 -45.2h-52.2z"/><path d="M1707.7 538.3l26.1 -45.2h-52.2z"/><path d="M1709.3 536.3l26.1 -45.2h-52.2z"/><path d="M1710.9 534.3l26.1 -45.2h-52.2z"/><path d="M1712.5 532.3l26.1 -45.2h-52.2z"/><path d="M1714.1 530.3l26.1 -45.2h-52.2z"/><path d="M1715.6 528.3l26.1 -45.2h-52.2z"/><path d="M1717.2 526.3l26.1 -45.2h-52.2z"/><path d="M1718.8 524.3l26.1 -45.2h-52.2z"/><path d="M1720.4 522.3l26.1 -45.2h-52.2z"/><path d="M1722 520.3l26.1 -45.2h-52.2z"/><path d="M1723.6 518.3l26.1 -45.2h-52.2z"/><path d="M1725.2 516.3l26.1 -45.2h-52.2z"/><path d="M1726.8 514.3l26.1 -45.2h-52.2z"/><path d="M1728.3 512.3l26.1 -45.2h-52.2z"/><path d="M1729.9 510.3l26.1 -45.2h-52.2z"/><path d="M1731.5 508.3l26.1 -45.2h-52.2z"/><path d="M1733.1 506.3l26.1 -45.2h-52.2z"/><path d="M1734.7 504.3l26.1 -45.2h-52.2z"/><path d="M1736.3 502.3l26.1 -45.2h-52.2z"/><path d="M1737.9 500.3l26.1 -45.2h-52.2z"/><path d="M1739.5 498.3l26.1 -45.2h-52.2z"/><path d="M1741 496.3l26.1 -45.2h-52.2z"/><path d="M1742.6 494.3l26.1 -45.2h-52.2z"/><path d="M1744.2 492.3l26.1 -45.2h-52.2z"/><path d="M1745.8 490.3l26.1 -45.2h-52.2z"/><path d="M1747.4 488.3l26.1 -45.2h-52.2z"/><path d="M1749 486.3l26.1 -45.2h-52.2z"/><path d="M1750.6 484.3l26.1 -45.2h-52.2z"/><path d="M1752.2 482.3l26.1 -45.2h-52.2z"/><path d="M1753.7 480.3l26.1 -45.2h-52.2z"/><path d="M1755.3 478.3l26.1 -45.2h-52.2z"/><path d="M1756.9 476.2l26.1 -45.2h-52.2z"/><path d="M1758.5 474.2l26.1 -45.2h-52.2z"/><path d="M1760.1 472.2l26.1 -45.2h-52.2z"/><path d="M1761.7 470.2l26.1 -45.2h-52.2z"/><path d="M1763.3 468.2l26.1 -45.2h-52.2z"/><path d="M1764.9 466.2l26.1 -45.2h-52.2z"/><path d="M1766.4 464.2l26.1 -45.2h-52.2z"/><path d="M1768 462.2l26.1 -45.2h-52.2z"/><path d="M1769.6 460.2l26.1 -45.2h-52.2z"/><path d="M1771.2 458.2l26.1 -45.2h-52.2z"/><path d="M1772.8 456.2l26.1 -45.2h-52.2z"/><path d="M1774.4 454.2l26.1 -45.2h-52.2z"/><path d="M1776 452.2l26.1 -45.2h-52.2z"/><path d="M1777.6 450.2l26.1 -45.2h-52.2z"/><path d="M1779.2 448.2l26.1 -45.2h-52.2z"/><path d="M1780.7 446.2l26.1 -45.2h-52.2z"/><path d="M1782.3 444.2l26.1 -45.2h-52.2z"/><path d="M1783.9 442.2l26.1 -45.2h-52.2z"/><path d="M1785.5 440.2l26.1 -45.2h-52.2z"/><path d="M1787.1 438.2l26.1 -45.2h-52.2z"/><path d="M1788.7 436.2l26.1 -45.2h-52.2z"/><path d="M1790.3 434.2l26.1 -45.2h-52.2z"/><path d="M1791.9 432.1l26.1 -45.2h-52.2z"/><path d="M1793.4 430.1l26.1 -45.2h-52.2z"/><path d="M1795 428.1l26.1 -45.2h-52.2z"/><path d="M1796.6 426.1l26.1 -45.2h-52.2z"/><path d="M1798.2 424.1l26.1 -45.2h-52.2z"/><path d="M1799.8 422.1l26.1 -45.2h-52.2z"/><path d="M1801.4 420.1l26.1 -45.2h-52.2z"/><path d="M1803 418.1l26.1 -45.2h-52.2z"/><path d="M1804.6 416.1l26.1 -45.2h-52.2z"/><path d="M1806.1 414l26.1 -45.2h-52.2z"/><path d="M1807.7 412l26.1 -45.2h-52.2z"/><path d="M1809.3 410l26.1 -45.2h-52.2z"/><path d="M1810.9 408l26.1 -45.2h-52.2z"/><path d="M1812.5 406l26.1 -45.2h-52.2z"/><path d="M1814.1 404l26.1 -45.2h-52.2z"/><path d="M1815.7 402l26.1 -45.2h-52.2z"/><path d="M1817.3 399.9l26.1 -45.2h-52.2z"/><path d="M1818.8 397.9l26.1 -45.2h-52.2z"/><path d="M1820.4 395.9l26.1 -45.2h-52.2z"/><path d="M1822 393.9l26.1 -45.2h-52.2z"/><path d="M1823.6 391.9l26.1 -45.2h-52.2z"/><path d="M1825.2 389.8l26.1 -45.2h-52.2z"/><path d="M1826.8 387.8l26.1 -45.2h-52.2z"/><path d="M1828.4 385.8l26.1 -45.2h-52.2z"/><path d="M1830 383.8l26.1 -45.2h-52.2z"/><path d="M1831.5 381.8l26.1 -45.2h-52.2z"/><path d="M1833.1 379.7l26.1 -45.2h-52.2z"/><path d="M1834.7 377.7l26.1 -45.2h-52.2z"/><path d="M1836.3 375.7l26.1 -45.2h-52.2z"/><path d="M1837.9 373.7l26.1 -45.2h-52.2z"/><path d="M1839.5 371.6l26.1 -45.2h-52.2z"/><path d="M1841.1 369.6l26.1 -45.2h-52.2z"/><path d="M1842.7 367.6l26.1 -45.2h-52.2z"/><path d="M1844.2 365.6l26.1 -45.2h-52.2z"/><path d="M1845.8 363.5l26.1 -45.2h-52.2z"/><path d="M1847.4 361.5l26.1 -45.2h-52.2z"/><path d="M1849 359.5l26.1 -45.2h-52.2z"/><path d="M1850.6 357.5l26.1 -45.2h-52.2z"/><path d="M1852.2 355.4l26.1 -45.2h-52.2z"/><path d="M1853.8 353.4l26.1 -45.2h-52.2z"/><path d="M1855.4 351.4l26.1 -45.2h-52.2z"/><path d="M1856.9 349.3l26.1 -45.2h-52.2z"/><path d="M1858.5 347.3l26.1 -45.2h-52.2z"/><path d="M1860.1 345.3l26.1 -45.2h-52.2z"/><path d="M1861.7 343.2l26.1 -45.2h-52.2z"/><path d="M1863.3 341.2l26.1 -45.2h-52.2z"/><path d="M1864.9 339.2l26.1 -45.2h-52.2z"/><path d="M1866.5 337.1l26.1 -45.2h-52.2z"/><path d="M1868.1 335.1l26.1 -45.2h-52.2z"/><path d="M1869.6 333l26.1 -45.2h-52.2z"/><path d="M1871.2 331l26.1 -45.2h-52.2z"/><path d="M1872.8 329l26.1 -45.2h-52.2z"/><path d="M1874.4 326.9l26.1 -45.2h-52.2z"/><path d="M1876 324.9l26.1 -45.2h-52.2z"/><path d="M1877.6 322.8l26.1 -45.2h-52.2z"/><path d="M1879.2 320.8l26.1 -45.2h-52.2z"/><path d="M1880.8 318.8l26.1 -45.2h-52.2z"/><path d="M1882.3 316.7l26.1 -45.2h-52.2z"/><path d="M1883.9 314.7l26.1 -45.2h-52.2z"/><path d="M1885.5 312.6l26.1 -45.2h-52.2z"/><path d="M1887.1 310.6l26.1 -45.2h-52.2z"/><path d="M1888.7 308.5l26.1 -45.2h-52.2z"/>
</g>
<g fill="#fff" stroke="#00ff00" stroke-width="7.3" stroke-linejoin="round">
<path d="M970.8 610.9l26.1 45.2h-52.2z"/><path d="M972.4 611.6l26.1 45.2h-52.2z"/><path d="M974 612.3l26.1 45.2h-52.2z"/><path d="M975.6 613l26.1 45.2h-52.2z"/><path d="M977.1 613.7l26.1 45.2h-52.2z"/><path d="M978.7 614.4l26.1 45.2h-52.2z"/><path d="M980.3 615.1l26.1 45.2h-52.2z"/><path d="M981.9 615.8l26.1 45.2h-52.2z"/><path d="M983.5 616.5l26.1 45.2h-52.2z"/><path d="M985.1 617.3l26.1 45.2h-52.2z"/><path d="M986.6 618l26.1 45.2h-52.2z"/><path d="M988.2 618.7l26.1 45.2h-52.2z"/><path d="M989.8 619.4l26.1 45.2h-52.2z"/><path d="M991.4 620.2l26.1 45.2h-52.2z"/><path d="M993 620.9l26.1 45.2h-52.2z"/><path d="M994.6 621.6l26.1 45.2h-52.2z"/><path d="M996.2 622.3l26.1 45.2h-52.2z"/><path d="M997.7 623.1l26.1 45.2h-52.2z"/><path d="M999.3 623.8l26.1 45.2h-52.2z"/><path d="M1000.9 624.6l26.1 45.2h-52.2z"/><path d="M1002.5 625.3l26.1 45.2h-52.2z"/><path d="M1004.1 626l26.1 45.2h-52.2z"/><path d="M1005.7 626.8l26.1 45.2h-52.2z"/><path d="M1007.2 627.5l26.1 45.2h-52.2z"/><path d="M1008.8 628.3l26.1 45.2h-52.2z"/><path d="M1010.4 629l26.1 45.2h-52.2z"/><path d="M1012 629.8l26.1 45.2h-52.2z"/><path d="M1013.6 630.5l26.1 45.2h-52.2z"/><path d="M1015.2 631.3l26.1 45.2h-52.2z"/><path d="M1016.7 632l26.1 45.2h-52.2z"/><path d="M1018.3 632.8l26.1 45.2h-52.2z"/><path d="M1019.9 633.5l26.1 45.2h-52.2z"/><path d="M1021.5 634.3l26.1 45.2h-52.2z"/><path d="M1023.1 635.1l26.1 45.2h-52.2z"/><path d="M1024.7 635.8l26.1 45.2h-52.2z"/><path d="M1026.3 636.6l26.1 45.2h-52.2z"/><path d="M1027.8 637.4l26.1 45.2h-52.2z"/><path d="M1029.4 638.1l26.1 45.2h-52.2z"/><path d="M1031 638.9l26.1 45.2h-52.2z"/><path d="M1032.6 639.7l26.1 45.2h-52.2z"/><path d="M1034.2 640.4l26.1 45.2h-52.2z"/><path d="M1035.8 641.2l26.1 45.2h-52.2z"/><path d="M1037.3 642l26.1 45.2h-52.2z"/><path d="M1038.9 642.7l26.1 45.2h-52.2z"/><path d="M1040.5 643.5l26.1 45.2h-52.2z"/><path d="M1042.1 644.3l26.1 45.2h-52.2z"/><path d="M1043.7 645.1l26.1 45.2h-52.2z"/><path d="M1045.3 645.9l26.1 45.2h-52.2z"/><path d="M1046.9 646.6l26.1 45.2h-52.2z"/><path d="M1048.4 647.4l26.1 45.2h-52.2z"/><path d="M1050 648.2l26.1 45.2h-52.2z"/><path d="M1051.6 649l26.1 45.2h-52.2z"/><path d="M1053.2 649.8l26.1 45.2h-52.2z"/><path d="M1054.8 650.6l26.1 45.2h-52.2z"/><path d="M1056.4 651.4l26.1 45.2h-52.2z"/><path d="M1057.9 652.2l26.1 45.2h-52.2z"/><path d="M1059.5 653l26.1 45.2h-52.2z"/><path d="M1061.1 653.7l26.1 45.2h-52.2z"/><path d="M1062.7 654.5l26.1 45.2h-52.2z"/><path d="M1064.3 655.3l26.1 45.2h-52.2z"/><path d="M1065.9 656.1l26.1 45.2h-52.2z"/><path d="M1067.5 656.9l26.1 45.2h-52.2z"/><path d="M1069 657.7l26.1 45.2h-52.2z"/><path d="M1070.6 658.5l26.1 45.2h-52.2z"/><path d="M1072.2 659.3l26.1 45.2h-52.2z"/><path d="M1073.8 660.1l26.1 45.2h-52.2z"/><path d="M1075.4 660.9l26.1 45.2h-52.2z"/><path d="M1077 661.7l26.1 45.2h-52.2z"/><path d="M1078.5 662.6l26.1 45.2h-52.2z"/><path d="M1080.1 663.4l26.1 45.2h-52.2z"/><path d="M1081.7 664.2l26.1 45.2h-52.2z"/><path d="M1083.3 665l26.1 45.2h-52.2z"/><path d="M1084.9 665.8l26.1 45.2h-52.2z"/><path d="M1086.5 666.6l26.1 45.2h-52.2z"/><path d="M1088 667.4l26.1 45.2h-52.2z"/><path d="M1089.6 668.2l26.1 45.2h-52.2z"/><path d="M1091.2 669l26.1 45.2h-52.2z"/><path d="M1092.8 669.9l26.1 45.2h-52.2z"/><path d="M1094.4 670.7l26.1 45.2h-52.2z"/><path d="M1096 671.5l26.1 45.2h-52.2z"/><path d="M1097.6 672.3l26.1 45.2h-52.2z"/><path d="M1099.1 673.1l26.1 45.2h-52.2z"/><path d="M1100.7 673.9l26.1 45.2h-52.2z"/><path d="M1102.3 674.8l26.1 45.2h-52.2z"/><path d="M1103.9 675.6l26.1 45.2h-52.2z"/><path d="M1105.5 676.4l26.1 45.2h-52.2z"/><path d="M1107.1 677.2l26.1 45.2h-52.2z"/><path d="M1108.6 678.1l26.1 45.2h-52.2z"/><path d="M1110.2 678.9l26.1 45.2h-52.2z"/><path d="M1111.8 679.7l26.1 45.2h-52.2z"/><path d="M1113.4 680.5l26.1 45.2h-52.2z"/><path d="M1115 681.4l26.1 45.2h-52.2z"/><path d="M1116.6 682.2l26.1 45.2h-52.2z"/><path d="M1118.2 683l26.1 45.2h-52.2z"/><path d="M1119.7 683.9l26.1 45.2h-52.2z"/><path d="M1121.3 684.7l26.1 45.2h-52.2z"/><path d="M1122.9 685.5l26.1 45.2h-52.2z"/><path d="M1124.5 686.4l26.1 45.2h-52.2z"/><path d="M1126.1 687.2l26.1 45.2h-52.2z"/><path d="M1127.7 688l26.1 45.2h-52.2z"/><path d="M1129.2 688.9l26.1 45.2h-52.2z"/><path d="M1130.8 689.7l26.1 45.2h-52.2z"/><path d="M1132.4 690.6l26.1 45.2h-52.2z"/><path d="M1134 691.4l26.1 45.2h-52.2z"/><path d="M1135.6 692.2l26.1 45.2h-52.2z"/><path d="M1137.2 693.1l26.1 45.2h-52.2z"/><path d="M1138.8 693.9l26.1 45.2h-52.2z"/><path d="M1140.3 694.8l26.1 45.2h-52.2z"/><path d="M1141.9 695.6l26.1 45.2h-52.2z"/><path d="M1143.5 696.4l26.1 45.2h-52.2z"/><path d="M1145.1 697.3l26.1 45.2h-52.2z"/><path d="M1146.7 698.1l26.1 45.2h-52.2z"/><path d="M1148.3 699l26.1 45.2h-52.2z"/><path d="M1149.8 699.8l26.1 45.2h-52.2z"/><path d="M1151.4 700.7l26.1 45.2h-52.2z"/><path d="M1153 701.5l26.1 45.2h-52.2z"/><path d="M1154.6 702.4l26.1 45.2h-52.2z"/><path d="M1156.2 703.2l26.1 45.2h-52.2z"/><path d="M1157.8 704.1l26.1 45.2h-52.2z"/><path d="M1159.3 705l26.1 45.2h-52.2z"/><path d="M1160.9 705.8l26.1 45.2h-52.2z"/><path d="M1162.5 706.7l26.1 45.2h-52.2z"/><path d="M1164.1 707.5l26.1 45.2h-52.2z"/><path d="M1165.7 708.4l26.1 45.2h-52.2z"/><path d="M1167.3 709.2l26.1 45.2h-52.2z"/><path d="M1168.9 710.1l26.1 45.2h-52.2z"/><path d="M1170.4 711l26.1 45.2h-52.2z"/><path d="M1172 711.8l26.1 45.2h-52.2z"/><path d="M1173.6 712.7l26.1 45.2h-52.2z"/><path d="M1175.2 713.6l26.1 45.2h-52.2z"/><path d="M1176.8 714.4l26.1 45.2h-52.2z"/><path d="M1178.4 715.3l26.1 45.2h-52.2z"/><path d="M1179.9 716.2l26.1 45.2h-52.2z"/><path d="M1181.5 717l26.1 45.2h-52.2z"/><path d="M1183.1 717.9l26.1 45.2h-52.2z"/><path d="M1184.7 718.8l26.1 45.2h-52.2z"/><path d="M1186.3 719.6l26.1 45.2h-52.2z"/><path d="M1187.9 720.5l26.1 45.2h-52.2z"/><path d="M1189.5 721.4l26.1 45.2h-52.2z"/><path d="M1191 722.3l26.1 45.2h-52.2z"/><path d="M1192.6 723.1l26.1 45.2h-52.2z"/><path d="M1194.2 724l26.1 45.2h-52.2z"/><path d="M1195.8 724.9l26.1 45.2h-52.2z"/><path d="M1197.4 725.8l26.1 45.2h-52.2z"/><path d="M1199 726.7l26.1 45.2h-52.2z"/><path d="M1200.5 727.6l26.1 45.2h-52.2z"/><path d="M1202.1 728.4l26.1 45.2h-52.2z"/><path d="M1203.7 729.3l26.1 45.2h-52.2z"/><path d="M1205.3 730.2l26.1 45.2h-52.2z"/><path d="M1206.9 731.1l26.1 45.2h-52.2z"/><path d="M1208.5 732l26.1 45.2h-52.2z"/><path d="M1210 732.9l26.1 45.2h-52.2z"/><path d="M1211.6 733.8l26.1 45.2h-52.2z"/><path d="M1213.2 734.7l26.1 45.2h-52.2z"/><path d="M1214.8 735.6l26.1 45.2h-52.2z"/><path d="M1216.4 736.5l26.1 45.2h-52.2z"/><path d="M1218 737.4l26.1 45.2h-52.2z"/><path d="M1219.6 738.3l26.1 45.2h-52.2z"/><path d="M1221.1 739.2l26.1 45.2h-52.2z"/><path d="M1222.7 740.1l26.1 45.2h-52.2z"/><path d="M1224.3 741l26.1 45.2h-52.2z"/><path d="M1225.9 741.9l26.1 45.2h-52.2z"/><path d="M1227.5 742.8l26.1 45.2h-52.2z"/><path d="M1229.1 743.8l26.1 45.2h-52.2z"/><path d="M1230.6 744.7l26.1 45.2h-52.2z"/><path d="M1232.2 745.6l26.1 45.2h-52.2z"/><path d="M1233.8 746.5l26.1 45.2h-52.2z"/><path d="M1235.4 747.5l26.1 45.2h-52.2z"/><path d="M1237 748.4l26.1 45.2h-52.2z"/><path d="M1238.6 749.3l26.1 45.2h-52.2z"/><path d="M1240.2 750.2l26.1 45.2h-52.2z"/><path d="M1241.7 751.2l26.1 45.2h-52.2z"/><path d="M1243.3 752.1l26.1 45.2h-52.2z"/><path d="M1244.9 753.1l26.1 45.2h-52.2z"/><path d="M1246.5 754l26.1 45.2h-52.2z"/><path d="M1248.1 755l26.1 45.2h-52.2z"/><path d="M1249.7 755.9l26.1 45.2h-52.2z"/><path d="M1251.2 756.9l26.1 45.2h-52.2z"/><path d="M1252.8 757.8l26.1 45.2h-52.2z"/><path d="M1254.4 758.8l26.1 45.2h-52.2z"/><path d="M1256 759.7l26.1 45.2h-52.2z"/><path d="M1257.6 760.7l26.1 45.2h-52.2z"/><path d="M1259.2 761.7l26.1 45.2h-52.2z"/><path d="M1260.8 762.7l26.1 45.2h-52.2z"/><path d="M1262.3 763.6l26.1 45.2h-52.2z"/><path d="M1263.9 764.6l26.1 45.2h-52.2z"/><path d="M1265.5 765.6l26.1 45.2h-52.2z"/><path d="M1267.1 766.6l26.1 45.2h-52.2z"/><path d="M1268.7 767.6l26.1 45.2h-52.2z"/><path d="M1270.3 768.6l26.1 45.2h-52.2z"/><path d="M1271.8 769.6l26.1 45.2h-52.2z"/><path d="M1273.4 770.6l26.1 45.2h-52.2z"/><path d="M1275 771.6l26.1 45.2h-52.2z"/><path d="M1276.6 772.6l26.1 45.2h-52.2z"/><path d="M1278.2 773.6l26.1 45.2h-52.2z"/><path d="M1279.8 774.7l26.1 45.2h-52.2z"/><path d="M1281.3 775.7l26.1 45.2h-52.2z"/><path d="M1282.9 776.7l26.1 45.2h-52.2z"/><path d="M1284.5 777.8l26.1 45.2h-52.2z"/><path d="M1286.1 778.8l26.1 45.2h-52.2z"/><path d="M1287.7 779.9l26.1 45.2h-52.2z"/><path d="M1289.3 781l26.1 45.2h-52.2z"/><path d="M1290.9 782l26.1 45.2h-52.2z"/><path d="M1292.4 783.1l26.1 45.2h-52.2z"/><path d="M1294 784.2l26.1 45.2h-52.2z"/><path d="M1295.6 785.3l26.1 45.2h-52.2z"/><path d="M1297.2 786.4l26.1 45.2h-52.2z"/><path d="M1298.8 787.5l26.1 45.2h-52.2z"/><path d="M1300.4 788.6l26.1 45.2h-52.2z"/><path d="M1301.9 789.7l26.1 45.2h-52.2z"/><path d="M1303.5 790.8l26.1 45.2h-52.2z"/><path d="M1305.1 792l26.1 45.2h-52.2z"/><path d="M1306.7 793.1l26.1 45.2h-52.2z"/><path d="M1308.3 794.3l26.1 45.2h-52.2z"/><path d="M1309.9 795.4l26.1 45.2h-52.2z"/><path d="M1311.5 796.6l26.1 45.2h-52.2z"/><path d="M1313 797.8l26.1 45.2h-52.2z"/><path d="M1314.6 799l26.1 45.2h-52.2z"/><path d="M1316.2 800.2l26.1 45.2h-52.2z"/><path d="M1317.8 801.4l26.1 45.2h-52.2z"/><path d="M1319.4 802.6l26.1 45.2h-52.2z"/><path d="M1321 803.8l26.1 45.2h-52.2z"/><path d="M1322.5 805.1l26.1 45.2h-52.2z"/><path d="M1324.1 806.3l26.1 45.2h-52.2z"/><path d="M1325.7 807.6l26.1 45.2h-52.2z"/><path d="M1327.3 808.9l26.1 45.2h-52.2z"/><path d="M1328.9 810.1l26.1 45.2h-52.2z"/><path d="M1330.5 811.4l26.1 45.2h-52.2z"/><path d="M1332.1 812.8l26.1 45.2h-52.2z"/><path d="M1333.6 814.1l26.1 45.2h-52.2z"/><path d="M1335.2 815.4l26.1 45.2h-52.2z"/><path d="M1336.8 816.8l26.1 45.2h-52.2z"/><path d="M1338.4 818.2l26.1 45.2h-52.2z"/><path d="M1340 819.5l26.1 45.2h-52.2z"/><path d="M1341.6 820.9l26.1 45.2h-52.2z"/><path d="M1343.1 822.3l26.1 45.2h-52.2z"/><path d="M1344.7 823.8l26.1 45.2h-52.2z"/><path d="M1346.3 825.2l26.1 45.2h-52.2z"/><path d="M1347.9 826.7l26.1 45.2h-52.2z"/><path d="M1349.5 828.2l26.1 45.2h-52.2z"/><path d="M1351.1 829.7l26.1 45.2h-52.2z"/><path d="M1352.6 831.2l26.1 45.2h-52.2z"/><path d="M1354.2 832.8l26.1 45.2h-52.2z"/><path d="M1355.8 834.3l26.1 45.2h-52.2z"/><path d="M1357.4 835.9l26.1 45.2h-52.2z"/><path d="M1359 837.5l26.1 45.2h-52.2z"/><path d="M1360.6 839.2l26.1 45.2h-52.2z"/><path d="M1362.2 840.8l26.1 45.2h-52.2z"/><path d="M1363.7 842.5l26.1 45.2h-52.2z"/><path d="M1365.3 844.2l26.1 45.2h-52.2z"/><path d="M1366.9 846l26.1 45.2h-52.2z"/><path d="M1368.5 847.8l26.1 45.2h-52.2z"/><path d="M1370.1 849.6l26.1 45.2h-52.2z"/><path d="M1371.7 851.4l26.1 45.2h-52.2z"/><path d="M1373.2 853.3l26.1 45.2h-52.2z"/><path d="M1374.8 855.2l26.1 45.2h-52.2z"/><path d="M1376.4 857.2l26.1 45.2h-52.2z"/><path d="M1378 859.2l26.1 45.2h-52.2z"/><path d="M1379.6 861.2l26.1 45.2h-52.2z"/><path d="M1381.2 863.3l26.1 45.2h-52.2z"/><path d="M1382.8 865.5l26.1 45.2h-52.2z"/><path d="M1384.3 867.6l26.1 45.2h-52.2z"/><path d="M1385.9 869.9l26.1 45.2h-52.2z"/><path d="M1387.5 872.2l26.1 45.2h-52.2z"/><path d="M1389.1 874.5l26.1 45.2h-52.2z"/><path d="M1390.7 877l26.1 45.2h-52.2z"/><path d="M1392.3 879.5l26.1 45.2h-52.2z"/><path d="M1393.8 882l26.1 45.2h-52.2z"/><path d="M1395.4 884.7l26.1 45.2h-52.2z"/><path d="M1397 887.4l26.1 45.2h-52.2z"/><path d="M1398.6 890.3l26.1 45.2h-52.2z"/><path d="M1400.2 893.2l26.1 45.2h-52.2z"/><path d="M1401.8 896.2l26.1 45.2h-52.2z"/><path d="M1403.4 899.3l26.1 45.2h-52.2z"/><path d="M1404.9 902.6l26.1 45.2h-52.2z"/><path d="M1406.5 906l26.1 45.2h-52.2z"/><path d="M1408.1 909.5l26.1 45.2h-52.2z"/><path d="M1409.7 913.2l26.1 45.2h-52.2z"/><path d="M1411.3 917.1l26.1 45.2h-52.2z"/><path d="M1412.9 921.2l26.1 45.2h-52.2z"/><path d="M1414.4 925.5l26.1 45.2h-52.2z"/><path d="M1416 930.1l26.1 45.2h-52.2z"/><path d="M1417.6 934.9l26.1 45.2h-52.2z"/><path d="M1419.2 940l26.1 45.2h-52.2z"/><path d="M1420.8 945.5l26.1 45.2h-52.2z"/><path d="M1422.4 951.3l26.1 45.2h-52.2z"/><path d="M1423.9 957.5l26.1 45.2h-52.2z"/><path d="M1425.5 964.2l26.1 45.2h-52.2z"/><path d="M1427.1 971.5l26.1 45.2h-52.2z"/><path d="M1428.7 979.3l26.1 45.2h-52.2z"/><path d="M1430.3 987.9l26.1 45.2h-52.2z"/><path d="M1431.9 997.3l26.1 45.2h-52.2z"/><path d="M1433.5 1007.7l26.1 45.2h-52.2z"/><path d="M1435 1019.3l26.1 45.2h-52.2z"/><path d="M1436.6 1032.5l26.1 45.2h-52.2z"/><path d="M1438.2 1047.5l26.1 45.2h-52.2z"/><path d="M1439.8 1065l26.1 45.2h-52.2z"/><path d="M1441.4 1086l26.1 45.2h-52.2z"/><path d="M1443 1112.1l26.1 45.2h-52.2z"/><path d="M1444.5 1146.4l26.1 45.2h-52.2z"/><path d="M1446.1 1196.6l26.1 45.2h-52.2z"/><path d="M1447.7 1290.9l26.1 45.2h-52.2z"/><path d="M1449.3 1410.9l26.1 45.2h-52.2z"/><path d="M1450.9 1233.7l26.1 45.2h-52.2z"/><path d="M1452.5 1168.5l26.1 45.2h-52.2z"/><path d="M1454.1 1127.6l26.1 45.2h-52.2z"/><path d="M1455.6 1097.7l26.1 45.2h-52.2z"/><path d="M1457.2 1074l26.1 45.2h-52.2z"/><path d="M1458.8 1054.4l26.1 45.2h-52.2z"/><path d="M1460.4 1037.7l26.1 45.2h-52.2z"/><path d="M1462 1023l26.1 45.2h-52.2z"/><path d="M1463.6 1009.9l26.1 45.2h-52.2z"/><path d="M1465.2 998.1l26.1 45.2h-52.2z"/><path d="M1466.7 987.3l26.1 45.2h-52.2z"/><path d="M1468.3 977.4l26.1 45.2h-52.2z"/><path d="M1469.9 968.2l26.1 45.2h-52.2z"/><path d="M1471.5 959.5l26.1 45.2h-52.2z"/><path d="M1473.1 951.4l26.1 45.2h-52.2z"/><path d="M1474.7 943.7l26.1 45.2h-52.2z"/><path d="M1476.3 936.4l26.1 45.2h-52.2z"/><path d="M1477.8 929.5l26.1 45.2h-52.2z"/><path d="M1479.4 922.9l26.1 45.2h-52.2z"/><path d="M1481 916.5l26.1 45.2h-52.2z"/><path d="M1482.6 910.4l26.1 45.2h-52.2z"/><path d="M1484.2 904.5l26.1 45.2h-52.2z"/><path d="M1485.8 898.8l26.1 45.2h-52.2z"/><path d="M1487.4 893.4l26.1 45.2h-52.2z"/><path d="M1489 888l26.1 45.2h-52.2z"/><path d="M1490.5 882.9l26.1 45.2h-52.2z"/><path d="M1492.1 877.8l26.1 45.2h-52.2z"/><path d="M1493.7 873l26.1 45.2h-52.2z"/><path d="M1495.3 868.2l26.1 45.2h-52.2z"/><path d="M1496.9 863.6l26.1 45.2h-52.2z"/><path d="M1498.5 859.1l26.1 45.2h-52.2z"/><path d="M1500.1 854.7l26.1 45.2h-52.2z"/><path d="M1501.6 850.3l26.1 45.2h-52.2z"/><path d="M1503.2 846.1l26.1 45.2h-52.2z"/><path d="M1504.8 842l26.1 45.2h-52.2z"/><path d="M1506.4 838l26.1 45.2h-52.2z"/><path d="M1508 834l26.1 45.2h-52.2z"/><path d="M1509.6 830.1l26.1 45.2h-52.2z"/><path d="M1511.2 826.3l26.1 45.2h-52.2z"/><path d="M1512.7 822.6l26.1 45.2h-52.2z"/><path d="M1514.3 819l26.1 45.2h-52.2z"/><path d="M1515.9 815.4l26.1 45.2h-52.2z"/><path d="M1517.5 811.8l26.1 45.2h-52.2z"/><path d="M1519.1 808.3l26.1 45.2h-52.2z"/><path d="M1520.7 804.9l26.1 45.2h-52.2z"/><path d="M1522.3 801.5l26.1 45.2h-52.2z"/><path d="M1523.8 798.2l26.1 45.2h-52.2z"/><path d="M1525.4 795l26.1 45.2h-52.2z"/><path d="M1527 791.7l26.1 45.2h-52.2z"/><path d="M1528.6 788.5l26.1 45.2h-52.2z"/><path d="M1530.2 785.4l26.1 45.2h-52.2z"/><path d="M1531.8 782.3l26.1 45.2h-52.2z"/><path d="M1533.4 779.2l26.1 45.2h-52.2z"/><path d="M1534.9 776.2l26.1 45.2h-52.2z"/><path d="M1536.5 773.2l26.1 45.2h-52.2z"/><path d="M1538.1 770.2l26.1 45.2h-52.2z"/><path d="M1539.7 767.3l26.1 45.2h-52.2z"/><path d="M1541.3 764.4l26.1 45.2h-52.2z"/><path d="M1542.9 761.5l26.1 45.2h-52.2z"/><path d="M1544.5 758.7l26.1 45.2h-52.2z"/><path d="M1546 755.9l26.1 45.2h-52.2z"/><path d="M1547.6 753.1l26.1 45.2h-52.2z"/><path d="M1549.2 750.3l26.1 45.2h-52.2z"/><path d="M1550.8 747.6l26.1 45.2h-52.2z"/><path d="M1552.4 744.9l26.1 45.2h-52.2z"/><path d="M1554 742.2l26.1 45.2h-52.2z"/><path d="M1555.6 739.5l26.1 45.2h-52.2z"/><path d="M1557.1 736.9l26.1 45.2h-52.2z"/><path d="M1558.7 734.3l26.1 45.2h-52.2z"/><path d="M1560.3 731.7l26.1 45.2h-52.2z"/><path d="M1561.9 729.1l26.1 45.2h-52.2z"/><path d="M1563.5 726.5l26.1 45.2h-52.2z"/><path d="M1565.1 724l26.1 45.2h-52.2z"/><path d="M1566.7 721.4l26.1 45.2h-52.2z"/><path d="M1568.2 718.9l26.1 45.2h-52.2z"/><path d="M1569.8 716.4l26.1 45.2h-52.2z"/><path d="M1571.4 713.9l26.1 45.2h-52.2z"/><path d="M1573 711.5l26.1 45.2h-52.2z"/><path d="M1574.6 709l26.1 45.2h-52.2z"/><path d="M1576.2 706.6l26.1 45.2h-52.2z"/><path d="M1577.8 704.1l26.1 45.2h-52.2z"/><path d="M1579.4 701.7l26.1 45.2h-52.2z"/><path d="M1580.9 699.3l26.1 45.2h-52.2z"/><path d="M1582.5 696.9l26.1 45.2h-52.2z"/><path d="M1584.1 694.5l26.1 45.2h-52.2z"/><path d="M1585.7 692.2l26.1 45.2h-52.2z"/><path d="M1587.3 689.8l26.1 45.2h-52.2z"/><path d="M1588.9 687.5l26.1 45.2h-52.2z"/><path d="M1590.5 685.2l26.1 45.2h-52.2z"/><path d="M1592 682.8l26.1 45.2h-52.2z"/><path d="M1593.6 680.5l26.1 45.2h-52.2z"/><path d="M1595.2 678.2l26.1 45.2h-52.2z"/><path d="M1596.8 675.9l26.1 45.2h-52.2z"/><path d="M1598.4 673.6l26.1 45.2h-52.2z"/><path d="M1600 671.4l26.1 45.2h-52.2z"/><path d="M1601.6 669.1l26.1 45.2h-52.2z"/><path d="M1603.1 666.8l26.1 45.2h-52.2z"/><path d="M1604.7 664.6l26.1 45.2h-52.2z"/><path d="M1606.3 662.4l26.1 45.2h-52.2z"/><path d="M1607.9 660.1l26.1 45.2h-52.2z"/><path d="M1609.5 657.9l26.1 45.2h-52.2z"/><path d="M1611.1 655.7l26.1 45.2h-52.2z"/><path d="M1612.7 653.5l26.1 45.2h-52.2z"/><path d="M1614.2 651.3l26.1 45.2h-52.2z"/><path d="M1615.8 649.1l26.1 45.2h-52.2z"/><path d="M1617.4 646.9l26.1 45.2h-52.2z"/><path d="M1619 644.7l26.1 45.2h-52.2z"/><path d="M1620.6 642.5l26.1 45.2h-52.2z"/><path d="M1622.2 640.3l26.1 45.2h-52.2z"/><path d="M1623.8 638.2l26.1 45.2h-52.2z"/><path d="M1625.3 636l26.1 45.2h-52.2z"/><path d="M1626.9 633.9l26.1 45.2h-52.2z"/><path d="M1628.5 631.7l26.1 45.2h-52.2z"/><path d="M1630.1 629.6l26.1 45.2h-52.2z"/><path d="M1631.7 627.4l26.1 45.2h-52.2z"/><path d="M1633.3 625.3l26.1 45.2h-52.2z"/><path d="M1634.9 623.2l26.1 45.2h-52.2z"/><path d="M1636.4 621l26.1 45.2h-52.2z"/><path d="M1638 618.9l26.1 45.2h-52.2z"/><path d="M1639.6 616.8l26.1 45.2h-52.2z"/><path d="M1641.2 614.7l26.1 45.2h-52.2z"/><path d="M1642.8 612.6l26.1 45.2h-52.2z"/><path d="M1644.4 610.5l26.1 45.2h-52.2z"/><path d="M1646 608.4l26.1 45.2h-52.2z"/><path d="M1647.5 606.3l26.1 45.2h-52.2z"/><path d="M1649.1 604.2l26.1 45.2h-52.2z"/><path d="M1650.7 602.1l26.1 45.2h-52.2z"/><path d="M1652.3 600l26.1 45.2h-52.2z"/><path d="M1653.9 597.9l26.1 45.2h-52.2z"/><path d="M1655.5 595.9l26.1 45.2h-52.2z"/><path d="M1657.1 593.8l26.1 45.2h-52.2z"/><path d="M1658.7 591.7l26.1 45.2h-52.2z"/><path d="M1660.2 589.7l26.1 45.2h-52.2z"/><path d="M1661.8 587.6l26.1 45.2h-52.2z"/><path d="M1663.4 585.5l26.1 45.2h-52.2z"/><path d="M1665 583.5l26.1 45.2h-52.2z"/><path d="M1666.6 581.4l26.1 45.2h-52.2z"/><path d="M1668.2 579.4l26.1 45.2h-52.2z"/><path d="M1669.8 577.3l26.1 45.2h-52.2z"/><path d="M1671.3 575.3l26.1 45.2h-52.2z"/><path d="M1672.9 573.2l26.1 45.2h-52.2z"/><path d="M1674.5 571.2l26.1 45.2h-52.2z"/><path d="M1676.1 569.1l26.1 45.2h-52.2z"/><path d="M1677.7 567.1l26.1 45.2h-52.2z"/><path d="M1679.3 565l26.1 45.2h-52.2z"/><path d="M1680.9 563l26.1 45.2h-52.2z"/><path d="M1682.4 561l26.1 45.2h-52.2z"/><path d="M1684 558.9l26.1 45.2h-52.2z"/><path d="M1685.6 556.9l26.1 45.2h-52.2z"/><path d="M1687.2 554.9l26.1 45.2h-52.2z"/><path d="M1688.8 552.9l26.1 45.2h-52.2z"/><path d="M1690.4 550.8l26.1 45.2h-52.2z"/><path d="M1692 548.8l26.1 45.2h-52.2z"/><path d="M1693.5 546.8l26.1 45.2h-52.2z"/><path d="M1695.1 544.8l26.1 45.2h-52.2z"/><path d="M1696.7 542.8l26.1 45.2h-52.2z"/><path d="M1698.3 540.7l26.1 45.2h-52.2z"/><path d="M1699.9 538.7l26.1 45.2h-52.2z"/><path d="M1701.5 536.7l26.1 45.2h-52.2z"/><path d="M1703.1 534.7l26.1 45.2h-52.2z"/><path d="M1704.6 532.7l26.1 45.2h-52.2z"/><path d="M1706.2 530.7l26.1 45.2h-52.2z"/><path d="M1707.8 528.7l26.1 45.2h-52.2z"/><path d="M1709.4 526.6l26.1 45.2h-52.2z"/><path d="M1711 524.6l26.1 45.2h-52.2z"/><path d="M1712.6 522.6l26.1 45.2h-52.2z"/><path d="M1714.2 520.6l26.1 45.2h-52.2z"/><path d="M1715.7 518.6l26.1 45.2h-52.2z"/><path d="M1717.3 516.6l26.1 45.2h-52.2z"/><path d="M1718.9 514.6l26.1 45.2h-52.2z"/><path d="M1720.5 512.6l26.1 45.2h-52.2z"/><path d="M1722.1 510.6l26.1 45.2h-52.2z"/><path d="M1723.7 508.6l26.1 45.2h-52.2z"/><path d="M1725.3 506.6l26.1 45.2h-52.2z"/><path d="M1726.8 504.6l26.1 45.2h-52.2z"/><path d="M1728.4 502.6l26.1 45.2h-52.2z"/><path d="M1730 500.6l26.1 45.2h-52.2z"/><path d="M1731.6 498.6l26.1 45.2h-52.2z"/><path d="M1733.2 496.6l26.1 45.2h-52.2z"/><path d="M1734.8 494.6l26.1 45.2h-52.2z"/><path d="M1736.4 492.6l26.1 45.2h-52.2z"/><path d="M1738 490.6l26.1 45.2h-52.2z"/><path d="M1739.5 488.6l26.1 45.2h-52.2z"/><path d="M1741.1 486.6l26.1 45.2h-52.2z"/><path d="M1742.7 484.6l26.1 45.2h-52.2z"/><path d="M1744.3 482.6l26.1 45.2h-52.2z"/><path d="M1745.9 480.6l26.1 45.2h-52.2z"/><path d="M1747.5 478.6l26.1 45.2h-52.2z"/><path d="M1749.1 476.6l26.1 45.2h-52.2z"/><path d="M1750.6 474.6l26.1 45.2h-52.2z"/><path d="M1752.2 472.6l26.1 45.2h-52.2z"/><path d="M1753.8 470.6l26.1 45.2h-52.2z"/><path d="M1755.4 468.6l26.1 45.2h-52.2z"/><path d="M1757 466.6l26.1 45.2h-52.2z"/><path d="M1758.6 464.7l26.1 45.2h-52.2z"/><path d="M1760.2 462.7l26.1 45.2h-52.2z"/><path d="M1761.7 460.7l26.1 45.2h-52.2z"/><path d="M1763.3 458.7l26.1 45.2h-52.2z"/><path d="M1764.9 456.7l26.1 45.2h-52.2z"/><path d="M1766.5 454.7l26.1 45.2h-52.2z"/><path d="M1768.1 452.7l26.1 45.2h-52.2z"/><path d="M1769.7 450.7l26.1 45.2h-52.2z"/><path d="M1771.3 448.7l26.1 45.2h-52.2z"/><path d="M1772.8 446.7l26.1 45.2h-52.2z"/><path d="M1774.4 444.7l26.1 45.2h-52.2z"/><path d="M1776 442.7l26.1 45.2h-52.2z"/><path d="M1777.6 440.7l26.1 45.2h-52.2z"/><path d="M1779.2 438.7l26.1 45.2h-52.2z"/><path d="M1780.8 436.7l26.1 45.2h-52.2z"/><path d="M1782.4 434.7l26.1 45.2h-52.2z"/><path d="M1783.9 432.7l26.1 45.2h-52.2z"/><path d="M1785.5 430.7l26.1 45.2h-52.2z"/><path d="M1787.1 428.7l26.1 45.2h-52.2z"/><path d="M1788.7 426.7l26.1 45.2h-52.2z"/><path d="M1790.3 424.7l26.1 45.2h-52.2z"/><path d="M1791.9 422.7l26.1 45.2h-52.2z"/><path d="M1793.5 420.7l26.1 45.2h-52.2z"/><path d="M1795 418.7l26.1 45.2h-52.2z"/><path d="M1796.6 416.7l26.1 45.2h-52.2z"/><path d="M1798.2 414.7l26.1 45.2h-52.2z"/><path d="M1799.8 412.7l26.1 45.2h-52.2z"/><path d="M1801.4 410.7l26.1 45.2h-52.2z"/><path d="M1803 408.7l26.1 45.2h-52.2z"/><path d="M1804.6 406.7l26.1 45.2h-52.2z"/><path d="M1806.1 404.7l26.1 45.2h-52.2z"/><path d="M1807.7 402.6l26.1 45.2h-52.2z"/><path d="M1809.3 400.6l26.1 45.2h-52.2z"/><path d="M1810.9 398.6l26.1 45.2h-52.2z"/><path d="M1812.5 396.6l26.1 45.2h-52.2z"/><path d="M1814.1 394.6l26.1 45.2h-52.2z"/><path d="M1815.7 392.6l26.1 45.2h-52.2z"/><path d="M1817.3 390.6l26.1 45.2h-52.2z"/><path d="M1818.8 388.6l26.1 45.2h-52.2z"/><path d="M1820.4 386.6l26.1 45.2h-52.2z"/><path d="M1822 384.5l26.1 45.2h-52.2z"/><path d="M1823.6 382.5l26.1 45.2h-52.2z"/><path d="M1825.2 380.5l26.1 45.2h-52.2z"/><path d="M1826.8 378.5l26.1 45.2h-52.2z"/><path d="M1828.4 376.5l26.1 45.2h-52.2z"/><path d="M1829.9 374.5l26.1 45.2h-52.2z"/><path d="M1831.5 372.5l26.1 45.2h-52.2z"/><path d="M1833.1 370.4l26.1 45.2h-52.2z"/><path d="M1834.7 368.4l26.1 45.2h-52.2z"/><path d="M1836.3 366.4l26.1 45.2h-52.2z"/><path d="M1837.9 364.4l26.1 45.2h-52.2z"/><path d="M1839.5 362.3l26.1 45.2h-52.2z"/><path d="M1841 360.3l26.1 45.2h-52.2z"/><path d="M1842.6 358.3l26.1 45.2h-52.2z"/><path d="M1844.2 356.3l26.1 45.2h-52.2z"/><path d="M1845.8 354.3l26.1 45.2h-52.2z"/><path d="M1847.4 352.2l26.1 45.2h-52.2z"/><path d="M1849 350.2l26.1 45.2h-52.2z"/><path d="M1850.6 348.2l26.1 45.2h-52.2z"/><path d="M1852.1 346.1l26.1 45.2h-52.2z"/><path d="M1853.7 344.1l26.1 45.2h-52.2z"/><path d="M1855.3 342.1l26.1 45.2h-52.2z"/><path d="M1856.9 340l26.1 45.2h-52.2z"/><path d="M1858.5 338l26.1 45.2h-52.2z"/><path d="M1860.1 336l26.1 45.2h-52.2z"/><path d="M1861.7 333.9l26.1 45.2h-52.2z"/><path d="M1863.2 331.9l26.1 45.2h-52.2z"/><path d="M1864.8 329.9l26.1 45.2h-52.2z"/><path d="M1866.4 327.8l26.1 45.2h-52.2z"/><path d="M1868 325.8l26.1 45.2h-52.2z"/><path d="M1869.6 323.8l26.1 45.2h-52.2z"/><path d="M1871.2 321.7l26.1 45.2h-52.2z"/><path d="M1872.8 319.7l26.1 45.2h-52.2z"/><path d="M1874.3 317.6l26.1 45.2h-52.2z"/><path d="M1875.9 315.6l26.1 45.2h-52.2z"/><path d="M1877.5 313.5l26.1 45.2h-52.2z"/><path d="M1879.1 311.5l26.1 45.2h-52.2z"/><path d="M1880.7 309.4l26.1 45.2h-52.2z"/><path d="M1882.3 307.4l26.1 45.2h-52.2z"/><path d="M1883.9 305.3l26.1 45.2h-52.2z"/><path d="M1885.4 303.3l26.1 45.2h-52.2z"/><path d="M1887 301.2l26.1 45.2h-52.2z"/><path d="M1888.6 299.2l26.1 45.2h-52.2z"/><path d="M1890.2 297.1l26.1 45.2h-52.2z"/><path d="M1891.8 295.1l26.1 45.2h-52.2z"/><path d="M1893.4 293l26.1 45.2h-52.2z"/><path d="M1895 291l26.1 45.2h-52.2z"/><path d="M1896.6 288.9l26.1 45.2h-52.2z"/><path d="M1898.1 286.8l26.1 45.2h-52.2z"/><path d="M1899.7 284.8l26.1 45.2h-52.2z"/><path d="M1901.3 282.7l26.1 45.2h-52.2z"/><path d="M1902.9 280.7l26.1 45.2h-52.2z"/><path d="M1904.5 278.6l26.1 45.2h-52.2z"/><path d="M1906.1 276.5l26.1 45.2h-52.2z"/><path d="M1907.7 274.5l26.1 45.2h-52.2z"/><path d="M1909.2 272.4l26.1 45.2h-52.2z"/><path d="M1910.8 270.3l26.1 45.2h-52.2z"/><path d="M1912.4 268.3l26.1 45.2h-52.2z"/><path d="M1914 266.2l26.1 45.2h-52.2z"/><path d="M1915.6 264.1l26.1 45.2h-52.2z"/><path d="M1917.2 262l26.1 45.2h-52.2z"/><path d="M1918.8 260l26.1 45.2h-52.2z"/><path d="M1920.3 257.9l26.1 45.2h-52.2z"/><path d="M1921.9 255.8l26.1 45.2h-52.2z"/><path d="M1923.5 253.7l26.1 45.2h-52.2z"/><path d="M1925.1 251.7l26.1 45.2h-52.2z"/>
</g>
<g stroke="#000" stroke-width="8" fill="none">
<rect x="255.5" y="57.2" width="1904.5" height="1533.9"/>
<path d="M414.2 1591.1v-17M572.9 1591.1v-34M731.6 1591.1v-17M890.3 1591.1v-34M1049 1591.1v-17M1207.8 1591.1v-34M1366.5 1591.1v-17M1525.2 1591.1v-34M1683.9 1591.1v-17M1842.6 1591.1v-34M2001.3 1591.1v-17M255.5 1463.3h31.5M255.5 1335.5h17M255.5 1207.6h31.5M255.5 1079.8h17M255.5 952h31.5M255.5 824.1h17M255.5 696.3h31.5M255.5 568.5h17M255.5 440.7h31.5M255.5 312.8h17M255.5 185h31.5"/>
</g>
<g font-size="82">
<text x="211.4" y="1689"><tspan x="170" y="1684.6" font-family="'Liberation Serif',serif" font-size="77" fill="#333">−</tspan><tspan x="211.4" y="1689">0.5</tspan></text>
<text x="528.8" y="1689"><tspan x="487.4" y="1684.6" font-family="'Liberation Serif',serif" font-size="77" fill="#333">−</tspan><tspan x="528.8" y="1689">0.4</tspan></text>
<text x="846.2" y="1689"><tspan x="804.8" y="1684.6" font-family="'Liberation Serif',serif" font-size="77" fill="#333">−</tspan><tspan x="846.2" y="1689">0.3</tspan></text>
<text x="1163.7" y="1689"><tspan x="1122.3" y="1684.6" font-family="'Liberation Serif',serif" font-size="77" fill="#333">−</tspan><tspan x="1163.7" y="1689">0.2</tspan></text>
<text x="1481.1" y="1689"><tspan x="1439.7" y="1684.6" font-family="'Liberation Serif',serif" font-size="77" fill="#333">−</tspan><tspan x="1481.1" y="1689">0.1</tspan></text><path fill="#fff" d="M1553.45 1682.3H1570.1v8.2H1553.45zM1577.32 1682.3H1593.45v8.2H1577.32z"/>
<text x="1785.6" y="1689">0.0</text>
<text x="2103" y="1689">0.1</text><path fill="#fff" d="M2175.38 1682.3H2192.03v8.2H2175.38zM2199.25 1682.3H2215.38v8.2H2199.25z"/>
<text x="174.5" y="206.9"><tspan x="131.4" y="202.5" font-family="'Liberation Serif',serif" font-size="77" fill="#333">−</tspan><tspan x="174.5" y="206.9">2</tspan></text>
<text x="174.5" y="462.6"><tspan x="131.4" y="458.2" font-family="'Liberation Serif',serif" font-size="77" fill="#333">−</tspan><tspan x="174.5" y="462.6">3</tspan></text>
<text x="174.5" y="718.2"><tspan x="131.4" y="713.8" font-family="'Liberation Serif',serif" font-size="77" fill="#333">−</tspan><tspan x="174.5" y="718.2">4</tspan></text>
<text x="174.5" y="973.9"><tspan x="131.4" y="969.5" font-family="'Liberation Serif',serif" font-size="77" fill="#333">−</tspan><tspan x="174.5" y="973.9">5</tspan></text>
<text x="174.5" y="1229.5"><tspan x="131.4" y="1225.1" font-family="'Liberation Serif',serif" font-size="77" fill="#333">−</tspan><tspan x="174.5" y="1229.5">6</tspan></text>
<text x="174.5" y="1485.2"><tspan x="131.4" y="1480.8" font-family="'Liberation Serif',serif" font-size="77" fill="#333">−</tspan><tspan x="174.5" y="1485.2">7</tspan></text>
</g>
<text transform="translate(655.1 1826.5) scale(1 1.035)" font-size="78.7">E, VSCE-subscript font for SCE</text>
<text transform="translate(104.6 1021.6) rotate(-90) scale(1.012 1.035)" font-size="78.7">log i, A/cm<tspan font-size="54" dy="-31">2</tspan></text>
<g font-size="88">
<text transform="translate(506.2 181.7) scale(1 1.035)">Bare Cu</text>
<text transform="translate(506.2 289.6) scale(1 1.035)">MS-25/Silver@SA</text>
<text transform="translate(506.2 395.8) scale(1 1.035)">MS-30/Silver@SA</text>
<text transform="translate(506.2 502.2) scale(1 1.035)">MS-35/Silver@SA</text>
</g>
<g fill="#fff" stroke="#000000" stroke-width="7"><rect x="366.8" y="133.9" width="37.5" height="37.5"/></g>
<g fill="#fff" stroke="#ff0000" stroke-width="7"><circle cx="385.7" cy="259.2" r="21.5"/></g>
<g fill="#fff" stroke="#0000ff" stroke-width="7.3" stroke-linejoin="round"><path d="M386.3 397l26.1 -45.2h-52.2z"/></g>
<g fill="#fff" stroke="#00ff00" stroke-width="7.3" stroke-linejoin="round"><path d="M386.1 443.6l26.1 45.2h-52.2z"/></g>
<g fill="#fff" fill-opacity="0.3"><rect x="0" y="333" width="2283" height="1"/><rect x="0" y="945.5" width="2283" height="1"/><rect x="0" y="1559.3" width="2283" height="1"/></g>
</svg></body></html>
